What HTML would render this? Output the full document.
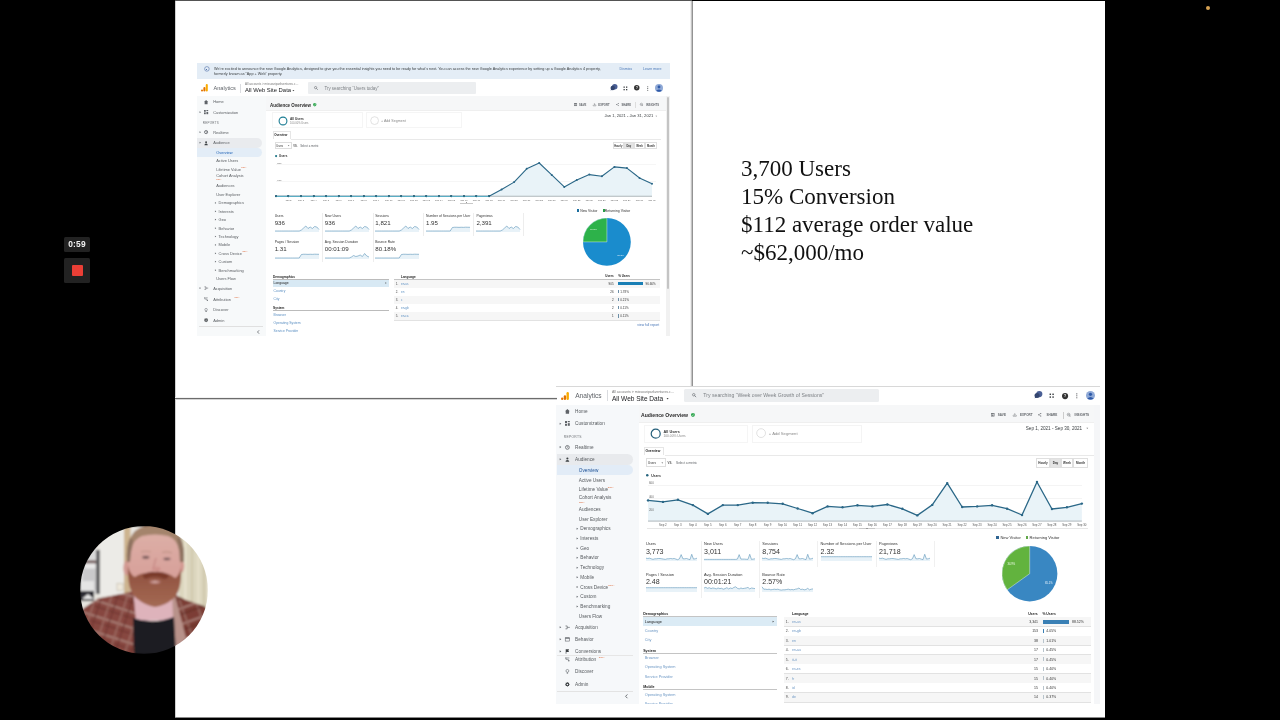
<!DOCTYPE html>
<html><head><meta charset="utf-8"><title>Slide</title>
<style>
html,body{margin:0;padding:0;background:#000;width:1280px;height:720px;overflow:hidden}
*{box-sizing:border-box}
.a{position:absolute}
body{font-family:"Liberation Sans",Arial,sans-serif;color:#222;position:relative}
.t{position:absolute;white-space:nowrap;line-height:1}
.serif{font-family:"Liberation Serif","Times New Roman",serif}
svg{overflow:visible}
</style></head>
<body>
<div class="a" style="left:175.00px;top:0.00px;width:517.00px;height:1.00px;background:#545454;"></div>
<div class="a" style="left:175.00px;top:1.00px;width:930.00px;height:716.00px;background:#fff;"></div>
<div class="a" style="left:175.00px;top:717.00px;width:930.00px;height:1.00px;background:#8a8a8a;"></div>
<div class="a" style="left:175.00px;top:1.00px;width:1.00px;height:716.00px;background:#d0d0d0;"></div>
<div class="a" style="left:0;top:0;width:1280px;height:720px;will-change:transform">
<div class="a" style="left:197.00px;top:62.50px;width:473.00px;height:273.50px;background:#fff;"></div>
<div class="a" style="left:197.00px;top:63.00px;width:472.50px;height:16.40px;background:#e4edf6;"></div>
<svg class="a" style="left:203.60px;top:66.10px" width="5.80" height="5.80"><circle cx="2.90" cy="2.90" r="2.30" fill="none" stroke="#4f6fa8" stroke-width="0.6"/></svg>
<div class="a" style="left:206.20px;top:68.60px;width:0.60px;height:1.80px;background:#4f6fa8;"></div>
<svg class="a" style="left:214px;top:70px;" width="1" height="1"><text x="0.00" y="0.15" font-size="3.77" fill="#3c4043" font-weight="normal" text-anchor="start" style="">We’re excited to announce the new Google Analytics, designed to give you the essential insights you need to be ready for what’s next. You can access the new Google Analytics experience by setting up a Google Analytics 4 property,</text></svg>
<svg class="a" style="left:214px;top:74px;" width="1" height="1"><text x="0.00" y="0.95" font-size="3.77" fill="#3c4043" font-weight="normal" text-anchor="start" style="">formerly known as “App + Web” property.</text></svg>
<svg class="a" style="left:619px;top:70px;" width="1" height="1"><text x="0.50" y="0.29" font-size="3.6" fill="#4a78b8" font-weight="normal" text-anchor="start" style="">Dismiss</text></svg>
<svg class="a" style="left:643px;top:70px;" width="1" height="1"><text x="0.00" y="0.29" font-size="3.6" fill="#4a78b8" font-weight="normal" text-anchor="start" style="">Learn more</text></svg>
<div class="a" style="left:197.00px;top:79.40px;width:472.50px;height:16.60px;background:#fff;"></div>
<div class="a" style="left:197.00px;top:95.60px;width:472.50px;height:0.70px;background:#e3e5e8;"></div>
<svg class="a" style="left:201.30px;top:84.40px;" width="6.80" height="7.50" viewBox="0 0 6.80 7.50"><rect x="4.74" y="0" width="2.06" height="7.50" rx="1.03" fill="#f9ab00"/><rect x="2.37" y="3.00" width="2.06" height="4.50" rx="1.03" fill="#e37400"/><circle cx="1.03" cy="6.47" r="1.03" fill="#e37400"/></svg>
<svg class="a" style="left:213px;top:90px;" width="1" height="1"><text x="0.50" y="0.10" font-size="5.6" fill="#5f6368" font-weight="normal" text-anchor="start" style="">Analytics</text></svg>
<div class="a" style="left:240.40px;top:83.50px;width:0.50px;height:9.50px;background:#dadce0;"></div>
<svg class="a" style="left:245px;top:85px;" width="1" height="1"><text x="0.00" y="0.37" font-size="3.0" fill="#777" font-weight="normal" text-anchor="start" style="">All accounts &gt; missouriparkventures.c…</text></svg>
<svg class="a" style="left:245px;top:92px;" width="1" height="1"><text x="0.00" y="0.31" font-size="5.9" fill="#202124" font-weight="normal" text-anchor="start" style="">All Web Site Data</text></svg>
<svg class="a" style="left:293px;top:90px" width="1" height="1"><polygon transform="translate(0.40,0.60)" points="-0.95,-0.57 0.95,-0.57 0,0.66" fill="#444"/></svg>
<div class="a" style="left:308.00px;top:82.25px;width:167.60px;height:11.50px;background:#eceef0;border-radius:1px"></div>
<svg class="a" style="left:314.30px;top:86.00px;" width="4.00" height="4.00" viewBox="0 0 4.00 4.00"><circle cx="1.6" cy="1.6" r="1.12" fill="none" stroke="#5f6368" stroke-width="0.56"/><path d="M2.4 2.4 L3.8 3.8" stroke="#5f6368" stroke-width="0.64"/></svg>
<svg class="a" style="left:324px;top:89px;" width="1" height="1"><text x="0.40" y="0.59" font-size="4.45" fill="#7d8185" font-weight="normal" text-anchor="start" style="">Try searching “Users today”</text></svg>
<svg class="a" style="left:610.45px;top:84.25px;" width="8.00" height="7.00" viewBox="0 0 8.00 7.00"><circle cx="4.75" cy="2.75" r="2.75" fill="#4a5f95"/><circle cx="2.75" cy="4.00" r="2.25" fill="#33456f"/><path d="M0.50 6.50 L1.50 4.50 L3.00 5.50Z" fill="#33456f"/></svg>
<svg class="a" style="left:622.70px;top:85.50px;" width="5.00" height="5.00" viewBox="0 0 5.00 5.00"><rect x="0.50" y="0.50" width="1.30" height="1.30" fill="#3c4043"/><rect x="0.50" y="3.00" width="1.30" height="1.30" fill="#3c4043"/><rect x="3.00" y="0.50" width="1.30" height="1.30" fill="#3c4043"/><rect x="3.00" y="3.00" width="1.30" height="1.30" fill="#3c4043"/></svg>
<svg class="a" style="left:633.25px;top:84.25px" width="7.50" height="7.50"><circle cx="3.75" cy="3.75" r="2.75" fill="#333" stroke="none" stroke-width="1"/></svg>
<svg class="a" style="left:637px;top:89px;" width="1" height="1"><text x="0.00" y="0.11" font-size="3.1" fill="#fff" font-weight="bold" text-anchor="middle" style="">?</text></svg>
<svg class="a" style="left:646.55px;top:85.50px;" width="1.50" height="5.00" viewBox="0 0 1.50 5.00"><circle cx="0.75" cy="0.75" r="0.50" fill="#3c4043"/><circle cx="0.75" cy="2.50" r="0.50" fill="#3c4043"/><circle cx="0.75" cy="4.25" r="0.50" fill="#3c4043"/></svg>
<svg class="a" style="left:655.00px;top:84.00px;" width="8.00" height="8.00" viewBox="0 0 8.00 8.00"><circle cx="4.0" cy="4.0" r="4.0" fill="#8fa9d6"/><circle cx="4.0" cy="3.0" r="1.44" fill="#2f5aa8"/><path d="M1.2 6.8 Q4.0 4.0 6.8 6.8 Q4.0 8.6 1.2 6.8Z" fill="#2f5aa8"/></svg>
<div class="a" style="left:197.00px;top:96.30px;width:68.50px;height:239.70px;background:#f7f9fa;"></div>
<div class="a" style="left:197.00px;top:138.20px;width:65.00px;height:9.40px;background:#e9ebee;border-radius:0 5px 5px 0"></div>
<div class="a" style="left:197.00px;top:148.00px;width:65.00px;height:9.00px;background:#e3edf7;border-radius:0 5px 5px 0"></div>
<svg class="a" style="left:204.20px;top:99.50px;" width="4.20" height="4.20" viewBox="0 0 4.20 4.20"><path d="M2.1 0 L4.2 1.8900000000000001 L3.57 1.8900000000000001 L3.57 4.2 L0.63 4.2 L0.63 1.8900000000000001 L0 1.8900000000000001Z" fill="#5f6368"/></svg>
<svg class="a" style="left:213px;top:103px;" width="1" height="1"><text x="0.20" y="0.01" font-size="3.95" fill="#5a5e62" font-weight="normal" text-anchor="start" style="">Home</text></svg>
<svg class="a" style="left:204.20px;top:110.10px;" width="4.20" height="4.20" viewBox="0 0 4.20 4.20"><rect x="0" y="0" width="1.764" height="1.764" fill="#5f6368"/><rect x="2.436" y="0" width="1.764" height="1.0584" fill="#5f6368"/><rect x="0" y="2.436" width="1.764" height="1.764" fill="#5f6368"/><rect x="2.436" y="1.9068" width="1.764" height="2.2932" fill="#5f6368"/></svg>
<svg class="a" style="left:200px;top:112px" width="1" height="1"><polygon transform="translate(0.30,0.20)" points="-0.72,-0.90 0.72,0 -0.72,0.90" fill="#5f6368"/></svg>
<svg class="a" style="left:213px;top:113px;" width="1" height="1"><text x="0.20" y="0.61" font-size="3.95" fill="#5a5e62" font-weight="normal" text-anchor="start" style="">Customization</text></svg>
<svg class="a" style="left:202px;top:123px;" width="1" height="1"><text x="0.80" y="0.87" font-size="3.0" fill="#6b6f73" font-weight="normal" text-anchor="start" style="letter-spacing:0.25px">REPORTS</text></svg>
<svg class="a" style="left:204.20px;top:130.10px;" width="4.20" height="4.20" viewBox="0 0 4.20 4.20"><circle cx="2.1" cy="2.1" r="1.6" fill="none" stroke="#5f6368" stroke-width="0.8"/><path d="M2.1 1.05 L2.1 2.1 L2.94 2.604" fill="none" stroke="#5f6368" stroke-width="0.6"/></svg>
<svg class="a" style="left:200px;top:132px" width="1" height="1"><polygon transform="translate(0.30,0.20)" points="-0.72,-0.90 0.72,0 -0.72,0.90" fill="#5f6368"/></svg>
<svg class="a" style="left:213px;top:133px;" width="1" height="1"><text x="0.20" y="0.61" font-size="3.95" fill="#5a5e62" font-weight="normal" text-anchor="start" style="">Realtime</text></svg>
<svg class="a" style="left:204.20px;top:140.60px;" width="4.20" height="4.20" viewBox="0 0 4.20 4.20"><circle cx="2.1" cy="1.26" r="0.924" fill="#3c4043"/><path d="M0.42000000000000004 4.2 Q0.42000000000000004 2.52 2.1 2.52 Q3.7800000000000002 2.52 3.7800000000000002 4.2Z" fill="#3c4043"/></svg>
<svg class="a" style="left:200px;top:142px" width="1" height="1"><polygon transform="translate(0.30,0.70)" points="-0.72,-0.90 0.72,0 -0.72,0.90" fill="#5f6368"/></svg>
<svg class="a" style="left:213px;top:144px;" width="1" height="1"><text x="0.20" y="0.11" font-size="3.95" fill="#5a5e62" font-weight="normal" text-anchor="start" style="">Audience</text></svg>
<svg class="a" style="left:216px;top:153px;" width="1" height="1"><text x="0.20" y="0.71" font-size="3.95" fill="#1a5fb4" font-weight="normal" text-anchor="start" style="">Overview</text></svg>
<svg class="a" style="left:216px;top:162px;" width="1" height="1"><text x="0.20" y="0.21" font-size="3.95" fill="#5a5e62" font-weight="normal" text-anchor="start" style="">Active Users</text></svg>
<svg class="a" style="left:216px;top:170px;" width="1" height="1"><text x="0.20" y="0.71" font-size="3.95" fill="#5a5e62" font-weight="normal" text-anchor="start" style="">Lifetime Value</text></svg>
<svg class="a" style="left:216px;top:177px;" width="1" height="1"><text x="0.20" y="0.41" font-size="3.95" fill="#5a5e62" font-weight="normal" text-anchor="start" style="">Cohort Analysis</text></svg>
<svg class="a" style="left:216px;top:187px;" width="1" height="1"><text x="0.20" y="0.41" font-size="3.95" fill="#5a5e62" font-weight="normal" text-anchor="start" style="">Audiences</text></svg>
<svg class="a" style="left:216px;top:195px;" width="1" height="1"><text x="0.20" y="0.91" font-size="3.95" fill="#5a5e62" font-weight="normal" text-anchor="start" style="">User Explorer</text></svg>
<svg class="a" style="left:215px;top:202px" width="1" height="1"><polygon transform="translate(0.60,0.90)" points="-0.68,-0.85 0.68,0 -0.68,0.85" fill="#5f6368"/></svg>
<svg class="a" style="left:218px;top:204px;" width="1" height="1"><text x="0.60" y="0.31" font-size="3.95" fill="#5a5e62" font-weight="normal" text-anchor="start" style="">Demographics</text></svg>
<svg class="a" style="left:215px;top:211px" width="1" height="1"><polygon transform="translate(0.60,0.30)" points="-0.68,-0.85 0.68,0 -0.68,0.85" fill="#5f6368"/></svg>
<svg class="a" style="left:218px;top:212px;" width="1" height="1"><text x="0.60" y="0.71" font-size="3.95" fill="#5a5e62" font-weight="normal" text-anchor="start" style="">Interests</text></svg>
<svg class="a" style="left:215px;top:219px" width="1" height="1"><polygon transform="translate(0.60,0.60)" points="-0.68,-0.85 0.68,0 -0.68,0.85" fill="#5f6368"/></svg>
<svg class="a" style="left:218px;top:221px;" width="1" height="1"><text x="0.60" y="0.01" font-size="3.95" fill="#5a5e62" font-weight="normal" text-anchor="start" style="">Geo</text></svg>
<svg class="a" style="left:215px;top:228px" width="1" height="1"><polygon transform="translate(0.60,0.20)" points="-0.68,-0.85 0.68,0 -0.68,0.85" fill="#5f6368"/></svg>
<svg class="a" style="left:218px;top:229px;" width="1" height="1"><text x="0.60" y="0.61" font-size="3.95" fill="#5a5e62" font-weight="normal" text-anchor="start" style="">Behavior</text></svg>
<svg class="a" style="left:215px;top:236px" width="1" height="1"><polygon transform="translate(0.60,0.50)" points="-0.68,-0.85 0.68,0 -0.68,0.85" fill="#5f6368"/></svg>
<svg class="a" style="left:218px;top:237px;" width="1" height="1"><text x="0.60" y="0.91" font-size="3.95" fill="#5a5e62" font-weight="normal" text-anchor="start" style="">Technology</text></svg>
<svg class="a" style="left:215px;top:244px" width="1" height="1"><polygon transform="translate(0.60,0.90)" points="-0.68,-0.85 0.68,0 -0.68,0.85" fill="#5f6368"/></svg>
<svg class="a" style="left:218px;top:246px;" width="1" height="1"><text x="0.60" y="0.31" font-size="3.95" fill="#5a5e62" font-weight="normal" text-anchor="start" style="">Mobile</text></svg>
<svg class="a" style="left:215px;top:253px" width="1" height="1"><polygon transform="translate(0.60,0.30)" points="-0.68,-0.85 0.68,0 -0.68,0.85" fill="#5f6368"/></svg>
<svg class="a" style="left:218px;top:254px;" width="1" height="1"><text x="0.60" y="0.71" font-size="3.95" fill="#5a5e62" font-weight="normal" text-anchor="start" style="">Cross Device</text></svg>
<svg class="a" style="left:215px;top:261px" width="1" height="1"><polygon transform="translate(0.60,0.70)" points="-0.68,-0.85 0.68,0 -0.68,0.85" fill="#5f6368"/></svg>
<svg class="a" style="left:218px;top:263px;" width="1" height="1"><text x="0.60" y="0.11" font-size="3.95" fill="#5a5e62" font-weight="normal" text-anchor="start" style="">Custom</text></svg>
<svg class="a" style="left:215px;top:270px" width="1" height="1"><polygon transform="translate(0.60,0.20)" points="-0.68,-0.85 0.68,0 -0.68,0.85" fill="#5f6368"/></svg>
<svg class="a" style="left:218px;top:271px;" width="1" height="1"><text x="0.60" y="0.61" font-size="3.95" fill="#5a5e62" font-weight="normal" text-anchor="start" style="">Benchmarking</text></svg>
<svg class="a" style="left:216px;top:280px;" width="1" height="1"><text x="0.20" y="0.01" font-size="3.95" fill="#5a5e62" font-weight="normal" text-anchor="start" style="">Users Flow</text></svg>
<svg class="a" style="left:241px;top:168px;" width="1" height="1"><text x="0.30" y="0.32" font-size="2.0" fill="#e0764a" font-weight="normal" text-anchor="start" style="">BETA</text></svg>
<svg class="a" style="left:216px;top:180px;" width="1" height="1"><text x="0.30" y="0.12" font-size="2.0" fill="#e0764a" font-weight="normal" text-anchor="start" style="">BETA</text></svg>
<svg class="a" style="left:242px;top:252px;" width="1" height="1"><text x="0.50" y="0.32" font-size="2.0" fill="#e0764a" font-weight="normal" text-anchor="start" style="">BETA</text></svg>
<svg class="a" style="left:204.20px;top:286.00px;" width="4.20" height="4.20" viewBox="0 0 4.20 4.20"><path d="M0.42000000000000004 0.8400000000000001 L1.8900000000000001 0.8400000000000001 L1.8900000000000001 3.3600000000000003 L0.42000000000000004 3.3600000000000003 M1.8900000000000001 2.1 L4.2 2.1" fill="none" stroke="#5f6368" stroke-width="0.5880000000000001"/></svg>
<svg class="a" style="left:200px;top:288px" width="1" height="1"><polygon transform="translate(0.30,0.10)" points="-0.72,-0.90 0.72,0 -0.72,0.90" fill="#5f6368"/></svg>
<svg class="a" style="left:213px;top:289px;" width="1" height="1"><text x="0.20" y="0.51" font-size="3.95" fill="#5a5e62" font-weight="normal" text-anchor="start" style="">Acquisition</text></svg>
<svg class="a" style="left:204.20px;top:297.30px;" width="4.20" height="4.20" viewBox="0 0 4.20 4.20"><circle cx="0.8400000000000001" cy="0.8400000000000001" r="0.63" fill="#5f6368"/><circle cx="3.3600000000000003" cy="3.3600000000000003" r="0.63" fill="#5f6368"/><path d="M0.8400000000000001 1.26 L0.8400000000000001 2.1 L2.94 2.1 L2.94 3.1500000000000004 M1.6800000000000002 0.8400000000000001 L3.7800000000000002 0.8400000000000001" fill="none" stroke="#5f6368" stroke-width="0.504"/></svg>
<svg class="a" style="left:213px;top:300px;" width="1" height="1"><text x="0.20" y="0.81" font-size="3.95" fill="#5a5e62" font-weight="normal" text-anchor="start" style="">Attribution</text></svg>
<svg class="a" style="left:234px;top:298px;" width="1" height="1"><text x="0.60" y="0.12" font-size="2.0" fill="#e0764a" font-weight="normal" text-anchor="start" style="">BETA</text></svg>
<svg class="a" style="left:204.20px;top:307.80px;" width="4.20" height="4.20" viewBox="0 0 4.20 4.20"><circle cx="2.1" cy="1.6800000000000002" r="1.26" fill="none" stroke="#5f6368" stroke-width="0.504"/><rect x="1.512" y="3.1500000000000004" width="1.1760000000000002" height="0.8400000000000001" fill="#5f6368"/></svg>
<svg class="a" style="left:213px;top:311px;" width="1" height="1"><text x="0.20" y="0.31" font-size="3.95" fill="#5a5e62" font-weight="normal" text-anchor="start" style="">Discover</text></svg>
<svg class="a" style="left:204.20px;top:318.30px;" width="4.20" height="4.20" viewBox="0 0 4.20 4.20"><polygon points="4.20,2.10 3.50,2.68 3.58,3.58 2.68,3.50 2.10,4.20 1.52,3.50 0.62,3.58 0.70,2.68 0.00,2.10 0.70,1.52 0.62,0.62 1.52,0.70 2.10,0.00 2.68,0.70 3.58,0.62 3.50,1.52" fill="#3c4043"/><circle cx="2.1" cy="2.1" r="0.672" fill="#f6f8fa"/></svg>
<svg class="a" style="left:213px;top:321px;" width="1" height="1"><text x="0.20" y="0.81" font-size="3.95" fill="#5a5e62" font-weight="normal" text-anchor="start" style="">Admin</text></svg>
<div class="a" style="left:199.00px;top:326.00px;width:64.00px;height:0.50px;background:#e0e0e0;"></div>
<svg class="a" style="left:256.60px;top:329.50px;" width="2.60" height="4.00" viewBox="0 0 2.60 4.00"><path d="M2.1 0.3 L0.5 2 L2.1 3.7" fill="none" stroke="#5f6368" stroke-width="0.8"/></svg>
<div class="a" style="left:265.50px;top:96.30px;width:400.50px;height:13.90px;background:#f6f7f8;"></div>
<div class="a" style="left:265.50px;top:110.10px;width:400.50px;height:0.50px;background:#efefef;"></div>
<svg class="a" style="left:270px;top:106px;" width="1" height="1"><text x="0.10" y="0.59" font-size="4.45" fill="#2a2a2a" font-weight="bold" text-anchor="start" style="">Audience Overview</text></svg>
<svg class="a" style="left:312.90px;top:102.90px;" width="3.40" height="3.40" viewBox="0 0 3.40 3.40"><path d="M1.7 0 L3.4 0.68 L3.4 1.7 Q3.4 2.8899999999999997 1.7 3.4 Q0 2.8899999999999997 0 1.7 L0 0.68Z" fill="#34a853"/><path d="M0.9520000000000001 1.7 L1.53 2.3120000000000003 L2.55 1.19" fill="none" stroke="#fff" stroke-width="0.408"/></svg>
<svg class="a" style="left:573.65px;top:103.35px;" width="3.10" height="3.10" viewBox="0 0 3.10 3.10"><rect x="0.31" y="0.31" width="2.48" height="2.48" fill="none" stroke="#5f6368" stroke-width="0.50"/><rect x="0.93" y="0.31" width="1.24" height="0.93" fill="#5f6368"/><rect x="0.93" y="1.71" width="1.24" height="0.78" fill="#5f6368"/></svg>
<svg class="a" style="left:579px;top:105px;" width="1" height="1"><text x="0.00" y="0.87" font-size="2.7" fill="#5f6368" font-weight="bold" text-anchor="start" style="letter-spacing:0.05px">SAVE</text></svg>
<svg class="a" style="left:592.85px;top:103.35px;" width="3.10" height="3.10" viewBox="0 0 3.10 3.10"><path d="M1.55 0.16 L1.55 2.02 M0.78 1.30 L1.55 2.08 L2.33 1.30 M0.16 1.86 L0.16 2.85 L2.94 2.85 L2.94 1.86" fill="none" stroke="#5f6368" stroke-width="0.40"/></svg>
<svg class="a" style="left:598px;top:105px;" width="1" height="1"><text x="0.30" y="0.87" font-size="2.7" fill="#5f6368" font-weight="bold" text-anchor="start" style="letter-spacing:0.05px">EXPORT</text></svg>
<svg class="a" style="left:616.05px;top:103.35px;" width="3.10" height="3.10" viewBox="0 0 3.10 3.10"><path d="M2.48 0.46 L0.62 1.55 L2.48 2.63" fill="none" stroke="#5f6368" stroke-width="0.37"/><circle cx="2.48" cy="0.46" r="0.46" fill="#5f6368"/><circle cx="0.62" cy="1.55" r="0.46" fill="#5f6368"/><circle cx="2.48" cy="2.63" r="0.46" fill="#5f6368"/></svg>
<svg class="a" style="left:621px;top:105px;" width="1" height="1"><text x="0.50" y="0.87" font-size="2.7" fill="#5f6368" font-weight="bold" text-anchor="start" style="letter-spacing:0.05px">SHARE</text></svg>
<svg class="a" style="left:640.35px;top:103.35px;" width="3.10" height="3.10" viewBox="0 0 3.10 3.10"><circle cx="1.40" cy="1.40" r="1.18" fill="none" stroke="#5f6368" stroke-width="0.40"/><path d="M0.78 1.71 L1.30 1.08 L1.71 1.55 L2.17 0.93" fill="none" stroke="#5f6368" stroke-width="0.37"/><circle cx="2.63" cy="2.63" r="0.46" fill="#5f6368"/></svg>
<svg class="a" style="left:646px;top:105px;" width="1" height="1"><text x="0.00" y="0.87" font-size="2.7" fill="#5f6368" font-weight="bold" text-anchor="start" style="letter-spacing:0.05px">INSIGHTS</text></svg>
<div class="a" style="left:634.60px;top:102.00px;width:0.40px;height:5.50px;background:#ddd;"></div>
<svg class="a" style="left:604px;top:117px;" width="1" height="1"><text x="0.50" y="0.37" font-size="4.1" fill="#3c4043" font-weight="normal" text-anchor="start" style="">Jan 1, 2021 - Jan 31, 2021</text></svg>
<svg class="a" style="left:656px;top:116px" width="1" height="1"><polygon transform="translate(0.30,0.20)" points="-0.80,-0.48 0.80,-0.48 0,0.56" fill="#777"/></svg>
<div class="a" style="left:272.30px;top:111.90px;width:90.30px;height:16.20px;background:#fff;border:0.5px solid #f5f5f5;"></div>
<svg class="a" style="left:277.90px;top:115.60px" width="10.00" height="10.00"><circle cx="5.00" cy="5.00" r="3.90" fill="none" stroke="#1d7d94" stroke-width="1.1"/></svg>
<svg class="a" style="left:290px;top:119px;" width="1" height="1"><text x="0.00" y="0.85" font-size="3.2" fill="#333" font-weight="bold" text-anchor="start" style="">All Users</text></svg>
<svg class="a" style="left:290px;top:123px;" width="1" height="1"><text x="0.00" y="0.67" font-size="2.7" fill="#888" font-weight="normal" text-anchor="start" style="">100.00% Users</text></svg>
<div class="a" style="left:365.50px;top:111.90px;width:96.00px;height:16.20px;background:#fff;border:0.5px solid #f5f5f5;"></div>
<svg class="a" style="left:369.50px;top:115.60px" width="9.20" height="9.20"><circle cx="4.60" cy="4.60" r="3.90" fill="none" stroke="#d5d5d5" stroke-width="0.7"/></svg>
<svg class="a" style="left:381px;top:121px;" width="1" height="1"><text x="0.00" y="0.49" font-size="3.6" fill="#8a8a8a" font-weight="normal" text-anchor="start" style="">+ Add Segment</text></svg>
<div class="a" style="left:272.60px;top:131.30px;width:18.00px;height:7.60px;background:#fff;border:0.5px solid #e6e6e6;border-bottom:none"></div>
<svg class="a" style="left:274px;top:136px;" width="1" height="1"><text x="0.20" y="0.36" font-size="2.95" fill="#222" font-weight="bold" text-anchor="start" style="">Overview</text></svg>
<div class="a" style="left:290.50px;top:138.50px;width:370.00px;height:0.50px;background:#e9e9e9;"></div>
<div class="a" style="left:274.50px;top:141.90px;width:17.30px;height:7.50px;background:#fff;border:0.5px solid #dedede;"></div>
<svg class="a" style="left:276px;top:146px;" width="1" height="1"><text x="0.20" y="0.77" font-size="2.7" fill="#333" font-weight="normal" text-anchor="start" style="">Users</text></svg>
<svg class="a" style="left:288px;top:145px" width="1" height="1"><polygon transform="translate(0.60,0.80)" points="-0.75,-0.45 0.75,-0.45 0,0.52" fill="#555"/></svg>
<svg class="a" style="left:293px;top:146px;" width="1" height="1"><text x="0.30" y="0.63" font-size="2.6" fill="#555" font-weight="bold" text-anchor="start" style="">VS.</text></svg>
<svg class="a" style="left:300px;top:146px;" width="1" height="1"><text x="0.20" y="0.80" font-size="2.8" fill="#5a5e62" font-weight="normal" text-anchor="start" style="">Select a metric</text></svg>
<div class="a" style="left:612.80px;top:141.90px;width:10.90px;height:7.60px;background:#fff;border:0.5px solid #dfdfdf;"></div>
<svg class="a" style="left:618px;top:146px;" width="1" height="1"><text x="0.25" y="0.63" font-size="2.6" fill="#333" font-weight="bold" text-anchor="middle" style="">Hourly</text></svg>
<div class="a" style="left:623.70px;top:141.90px;width:10.30px;height:7.60px;background:#e4e4e4;border:0.5px solid #dfdfdf;"></div>
<svg class="a" style="left:628px;top:146px;" width="1" height="1"><text x="0.85" y="0.63" font-size="2.6" fill="#333" font-weight="bold" text-anchor="middle" style="">Day</text></svg>
<div class="a" style="left:634.00px;top:141.90px;width:11.00px;height:7.60px;background:#fff;border:0.5px solid #dfdfdf;"></div>
<svg class="a" style="left:639px;top:146px;" width="1" height="1"><text x="0.50" y="0.63" font-size="2.6" fill="#333" font-weight="bold" text-anchor="middle" style="">Week</text></svg>
<div class="a" style="left:645.00px;top:141.90px;width:11.70px;height:7.60px;background:#fff;border:0.5px solid #dfdfdf;"></div>
<svg class="a" style="left:650px;top:146px;" width="1" height="1"><text x="0.85" y="0.63" font-size="2.6" fill="#333" font-weight="bold" text-anchor="middle" style="">Month</text></svg>
<svg class="a" style="left:274.30px;top:154.00px" width="4.20" height="4.20"><circle cx="2.10" cy="2.10" r="1.10" fill="#22788a" stroke="none" stroke-width="1"/></svg>
<svg class="a" style="left:279px;top:157px;" width="1" height="1"><text x="0.00" y="0.27" font-size="3.0" fill="#333" font-weight="bold" text-anchor="start" style="">Users</text></svg>
<div class="a" style="left:276.00px;top:164.40px;width:380.00px;height:0.40px;background:#f6f6f6;"></div>
<div class="a" style="left:276.00px;top:181.00px;width:380.00px;height:0.40px;background:#f6f6f6;"></div>
<svg class="a" style="left:272.90px;top:160.00px;" width="382.00" height="39.25" viewBox="0 0 382.00 39.25"><polygon points="3.00,36.25 3.00,36.25 15.53,36.25 28.07,36.25 40.60,36.25 53.13,36.25 65.67,36.25 78.20,36.25 90.73,36.25 103.27,36.25 115.80,36.25 128.33,36.25 140.87,36.25 153.40,36.25 165.93,36.25 178.47,36.25 191.00,36.25 203.53,36.25 216.07,36.25 228.60,29.50 241.13,22.10 253.67,8.80 266.20,3.00 278.73,14.90 291.27,26.90 303.80,19.90 316.33,14.60 328.87,16.20 341.40,6.90 353.93,8.10 366.47,17.90 379.00,23.70 379.00,36.25" fill="#e9f3f8"/><line x1="3.00" y1="36.25" x2="379.00" y2="36.25" stroke="#aeb6bb" stroke-width="1"/><polyline points="3.00,36.25 15.53,36.25 28.07,36.25 40.60,36.25 53.13,36.25 65.67,36.25 78.20,36.25 90.73,36.25 103.27,36.25 115.80,36.25 128.33,36.25 140.87,36.25 153.40,36.25 165.93,36.25 178.47,36.25 191.00,36.25 203.53,36.25 216.07,36.25 228.60,29.50 241.13,22.10 253.67,8.80 266.20,3.00 278.73,14.90 291.27,26.90 303.80,19.90 316.33,14.60 328.87,16.20 341.40,6.90 353.93,8.10 366.47,17.90 379.00,23.70" fill="none" stroke="#2a6787" stroke-width="1.1" stroke-linejoin="round"/><circle cx="3.00" cy="36.25" r="1.0" fill="#2a6787"/><circle cx="15.53" cy="36.25" r="1.0" fill="#2a6787"/><circle cx="28.07" cy="36.25" r="1.0" fill="#2a6787"/><circle cx="40.60" cy="36.25" r="1.0" fill="#2a6787"/><circle cx="53.13" cy="36.25" r="1.0" fill="#2a6787"/><circle cx="65.67" cy="36.25" r="1.0" fill="#2a6787"/><circle cx="78.20" cy="36.25" r="1.0" fill="#2a6787"/><circle cx="90.73" cy="36.25" r="1.0" fill="#2a6787"/><circle cx="103.27" cy="36.25" r="1.0" fill="#2a6787"/><circle cx="115.80" cy="36.25" r="1.0" fill="#2a6787"/><circle cx="128.33" cy="36.25" r="1.0" fill="#2a6787"/><circle cx="140.87" cy="36.25" r="1.0" fill="#2a6787"/><circle cx="153.40" cy="36.25" r="1.0" fill="#2a6787"/><circle cx="165.93" cy="36.25" r="1.0" fill="#2a6787"/><circle cx="178.47" cy="36.25" r="1.0" fill="#2a6787"/><circle cx="191.00" cy="36.25" r="1.0" fill="#2a6787"/><circle cx="203.53" cy="36.25" r="1.0" fill="#2a6787"/><circle cx="216.07" cy="36.25" r="1.0" fill="#2a6787"/><circle cx="228.60" cy="29.50" r="1.0" fill="#2a6787"/><circle cx="241.13" cy="22.10" r="1.0" fill="#2a6787"/><circle cx="253.67" cy="8.80" r="1.0" fill="#2a6787"/><circle cx="266.20" cy="3.00" r="1.0" fill="#2a6787"/><circle cx="278.73" cy="14.90" r="1.0" fill="#2a6787"/><circle cx="291.27" cy="26.90" r="1.0" fill="#2a6787"/><circle cx="303.80" cy="19.90" r="1.0" fill="#2a6787"/><circle cx="316.33" cy="14.60" r="1.0" fill="#2a6787"/><circle cx="328.87" cy="16.20" r="1.0" fill="#2a6787"/><circle cx="341.40" cy="6.90" r="1.0" fill="#2a6787"/><circle cx="353.93" cy="8.10" r="1.0" fill="#2a6787"/><circle cx="366.47" cy="17.90" r="1.0" fill="#2a6787"/><circle cx="379.00" cy="23.70" r="1.0" fill="#2a6787"/></svg>
<svg class="a" style="left:277px;top:163px;" width="1" height="1"><text x="0.30" y="0.80" font-size="2.5" fill="#666" font-weight="normal" text-anchor="start" style="">200</text></svg>
<svg class="a" style="left:277px;top:180px;" width="1" height="1"><text x="0.30" y="0.80" font-size="2.5" fill="#666" font-weight="normal" text-anchor="start" style="">100</text></svg>
<svg class="a" style="left:288px;top:200px;" width="1" height="1"><text x="0.43" y="0.59" font-size="2.5" fill="#666" font-weight="normal" text-anchor="middle" style="">Jan 2</text></svg>
<svg class="a" style="left:300px;top:200px;" width="1" height="1"><text x="0.97" y="0.59" font-size="2.5" fill="#666" font-weight="normal" text-anchor="middle" style="">Jan 3</text></svg>
<svg class="a" style="left:313px;top:200px;" width="1" height="1"><text x="0.50" y="0.59" font-size="2.5" fill="#666" font-weight="normal" text-anchor="middle" style="">Jan 4</text></svg>
<svg class="a" style="left:326px;top:200px;" width="1" height="1"><text x="0.03" y="0.59" font-size="2.5" fill="#666" font-weight="normal" text-anchor="middle" style="">Jan 5</text></svg>
<svg class="a" style="left:338px;top:200px;" width="1" height="1"><text x="0.57" y="0.59" font-size="2.5" fill="#666" font-weight="normal" text-anchor="middle" style="">Jan 6</text></svg>
<svg class="a" style="left:351px;top:200px;" width="1" height="1"><text x="0.10" y="0.59" font-size="2.5" fill="#666" font-weight="normal" text-anchor="middle" style="">Jan 7</text></svg>
<svg class="a" style="left:363px;top:200px;" width="1" height="1"><text x="0.63" y="0.59" font-size="2.5" fill="#666" font-weight="normal" text-anchor="middle" style="">Jan 8</text></svg>
<svg class="a" style="left:376px;top:200px;" width="1" height="1"><text x="0.17" y="0.59" font-size="2.5" fill="#666" font-weight="normal" text-anchor="middle" style="">Jan 9</text></svg>
<svg class="a" style="left:388px;top:200px;" width="1" height="1"><text x="0.70" y="0.59" font-size="2.5" fill="#666" font-weight="normal" text-anchor="middle" style="">Jan 10</text></svg>
<svg class="a" style="left:401px;top:200px;" width="1" height="1"><text x="0.23" y="0.59" font-size="2.5" fill="#666" font-weight="normal" text-anchor="middle" style="">Jan 11</text></svg>
<svg class="a" style="left:413px;top:200px;" width="1" height="1"><text x="0.77" y="0.59" font-size="2.5" fill="#666" font-weight="normal" text-anchor="middle" style="">Jan 12</text></svg>
<svg class="a" style="left:426px;top:200px;" width="1" height="1"><text x="0.30" y="0.59" font-size="2.5" fill="#666" font-weight="normal" text-anchor="middle" style="">Jan 13</text></svg>
<svg class="a" style="left:438px;top:200px;" width="1" height="1"><text x="0.83" y="0.59" font-size="2.5" fill="#666" font-weight="normal" text-anchor="middle" style="">Jan 14</text></svg>
<svg class="a" style="left:451px;top:200px;" width="1" height="1"><text x="0.37" y="0.59" font-size="2.5" fill="#666" font-weight="normal" text-anchor="middle" style="">Jan 15</text></svg>
<svg class="a" style="left:463px;top:200px;" width="1" height="1"><text x="0.90" y="0.59" font-size="2.5" fill="#666" font-weight="normal" text-anchor="middle" style="">Jan 16</text></svg>
<svg class="a" style="left:476px;top:200px;" width="1" height="1"><text x="0.43" y="0.59" font-size="2.5" fill="#666" font-weight="normal" text-anchor="middle" style="">Jan 17</text></svg>
<svg class="a" style="left:488px;top:200px;" width="1" height="1"><text x="0.97" y="0.59" font-size="2.5" fill="#666" font-weight="normal" text-anchor="middle" style="">Jan 18</text></svg>
<svg class="a" style="left:501px;top:200px;" width="1" height="1"><text x="0.50" y="0.59" font-size="2.5" fill="#666" font-weight="normal" text-anchor="middle" style="">Jan 19</text></svg>
<svg class="a" style="left:514px;top:200px;" width="1" height="1"><text x="0.03" y="0.59" font-size="2.5" fill="#666" font-weight="normal" text-anchor="middle" style="">Jan 20</text></svg>
<svg class="a" style="left:526px;top:200px;" width="1" height="1"><text x="0.57" y="0.59" font-size="2.5" fill="#666" font-weight="normal" text-anchor="middle" style="">Jan 21</text></svg>
<svg class="a" style="left:539px;top:200px;" width="1" height="1"><text x="0.10" y="0.59" font-size="2.5" fill="#666" font-weight="normal" text-anchor="middle" style="">Jan 22</text></svg>
<svg class="a" style="left:551px;top:200px;" width="1" height="1"><text x="0.63" y="0.59" font-size="2.5" fill="#666" font-weight="normal" text-anchor="middle" style="">Jan 23</text></svg>
<svg class="a" style="left:564px;top:200px;" width="1" height="1"><text x="0.17" y="0.59" font-size="2.5" fill="#666" font-weight="normal" text-anchor="middle" style="">Jan 24</text></svg>
<svg class="a" style="left:576px;top:200px;" width="1" height="1"><text x="0.70" y="0.59" font-size="2.5" fill="#666" font-weight="normal" text-anchor="middle" style="">Jan 25</text></svg>
<svg class="a" style="left:589px;top:200px;" width="1" height="1"><text x="0.23" y="0.59" font-size="2.5" fill="#666" font-weight="normal" text-anchor="middle" style="">Jan 26</text></svg>
<svg class="a" style="left:601px;top:200px;" width="1" height="1"><text x="0.77" y="0.59" font-size="2.5" fill="#666" font-weight="normal" text-anchor="middle" style="">Jan 27</text></svg>
<svg class="a" style="left:614px;top:200px;" width="1" height="1"><text x="0.30" y="0.59" font-size="2.5" fill="#666" font-weight="normal" text-anchor="middle" style="">Jan 28</text></svg>
<svg class="a" style="left:626px;top:200px;" width="1" height="1"><text x="0.83" y="0.59" font-size="2.5" fill="#666" font-weight="normal" text-anchor="middle" style="">Jan 29</text></svg>
<svg class="a" style="left:639px;top:200px;" width="1" height="1"><text x="0.37" y="0.59" font-size="2.5" fill="#666" font-weight="normal" text-anchor="middle" style="">Jan 30</text></svg>
<svg class="a" style="left:651px;top:200px;" width="1" height="1"><text x="0.90" y="0.59" font-size="2.5" fill="#666" font-weight="normal" text-anchor="middle" style="">Jan 31</text></svg>
<div class="a" style="left:459.70px;top:202.50px;width:13.00px;height:0.50px;background:#c8c8c8;"></div>
<div class="a" style="left:465.50px;top:202.00px;width:1.20px;height:1.00px;background:#999;"></div>
<div class="a" style="left:276.00px;top:195.80px;width:213.00px;height:0.90px;background:#5aaec4;"></div>
<svg class="a" style="left:273.90px;top:194.25px" width="4.00" height="4.00"><circle cx="2.00" cy="2.00" r="1.00" fill="#245f75" stroke="none" stroke-width="1"/></svg>
<svg class="a" style="left:286.43px;top:194.25px" width="4.00" height="4.00"><circle cx="2.00" cy="2.00" r="1.00" fill="#245f75" stroke="none" stroke-width="1"/></svg>
<svg class="a" style="left:298.97px;top:194.25px" width="4.00" height="4.00"><circle cx="2.00" cy="2.00" r="1.00" fill="#245f75" stroke="none" stroke-width="1"/></svg>
<svg class="a" style="left:311.50px;top:194.25px" width="4.00" height="4.00"><circle cx="2.00" cy="2.00" r="1.00" fill="#245f75" stroke="none" stroke-width="1"/></svg>
<svg class="a" style="left:324.03px;top:194.25px" width="4.00" height="4.00"><circle cx="2.00" cy="2.00" r="1.00" fill="#245f75" stroke="none" stroke-width="1"/></svg>
<svg class="a" style="left:336.57px;top:194.25px" width="4.00" height="4.00"><circle cx="2.00" cy="2.00" r="1.00" fill="#245f75" stroke="none" stroke-width="1"/></svg>
<svg class="a" style="left:349.10px;top:194.25px" width="4.00" height="4.00"><circle cx="2.00" cy="2.00" r="1.00" fill="#245f75" stroke="none" stroke-width="1"/></svg>
<svg class="a" style="left:361.63px;top:194.25px" width="4.00" height="4.00"><circle cx="2.00" cy="2.00" r="1.00" fill="#245f75" stroke="none" stroke-width="1"/></svg>
<svg class="a" style="left:374.17px;top:194.25px" width="4.00" height="4.00"><circle cx="2.00" cy="2.00" r="1.00" fill="#245f75" stroke="none" stroke-width="1"/></svg>
<svg class="a" style="left:386.70px;top:194.25px" width="4.00" height="4.00"><circle cx="2.00" cy="2.00" r="1.00" fill="#245f75" stroke="none" stroke-width="1"/></svg>
<svg class="a" style="left:399.23px;top:194.25px" width="4.00" height="4.00"><circle cx="2.00" cy="2.00" r="1.00" fill="#245f75" stroke="none" stroke-width="1"/></svg>
<svg class="a" style="left:411.77px;top:194.25px" width="4.00" height="4.00"><circle cx="2.00" cy="2.00" r="1.00" fill="#245f75" stroke="none" stroke-width="1"/></svg>
<svg class="a" style="left:424.30px;top:194.25px" width="4.00" height="4.00"><circle cx="2.00" cy="2.00" r="1.00" fill="#245f75" stroke="none" stroke-width="1"/></svg>
<svg class="a" style="left:436.83px;top:194.25px" width="4.00" height="4.00"><circle cx="2.00" cy="2.00" r="1.00" fill="#245f75" stroke="none" stroke-width="1"/></svg>
<svg class="a" style="left:449.37px;top:194.25px" width="4.00" height="4.00"><circle cx="2.00" cy="2.00" r="1.00" fill="#245f75" stroke="none" stroke-width="1"/></svg>
<svg class="a" style="left:461.90px;top:194.25px" width="4.00" height="4.00"><circle cx="2.00" cy="2.00" r="1.00" fill="#245f75" stroke="none" stroke-width="1"/></svg>
<svg class="a" style="left:474.43px;top:194.25px" width="4.00" height="4.00"><circle cx="2.00" cy="2.00" r="1.00" fill="#245f75" stroke="none" stroke-width="1"/></svg>
<svg class="a" style="left:486.97px;top:194.25px" width="4.00" height="4.00"><circle cx="2.00" cy="2.00" r="1.00" fill="#245f75" stroke="none" stroke-width="1"/></svg>
<svg class="a" style="left:274px;top:216px;" width="1" height="1"><text x="0.70" y="0.91" font-size="3.38" fill="#333" font-weight="normal" text-anchor="start" style="">Users</text></svg>
<svg class="a" style="left:274px;top:224px;" width="1" height="1"><text x="0.70" y="0.90" font-size="6.15" fill="#333" font-weight="normal" text-anchor="start" style="">936</text></svg>
<svg class="a" style="left:274.70px;top:225.20px;" width="44.00" height="8.00" viewBox="0 0 44.00 8.00"><polygon points="0,7.00 0.00,6.00 2.20,6.00 4.40,6.00 6.60,6.00 8.80,6.00 11.00,6.00 13.20,6.00 15.40,6.00 17.60,6.00 19.80,6.00 22.00,6.00 24.20,6.00 26.40,5.00 28.60,3.00 30.80,1.00 33.00,3.50 35.20,2.00 37.40,3.50 39.60,1.50 41.80,2.00 44.00,4.50 44.00,7.00" fill="#e8f2f8"/><polyline points="0.00,6.00 2.20,6.00 4.40,6.00 6.60,6.00 8.80,6.00 11.00,6.00 13.20,6.00 15.40,6.00 17.60,6.00 19.80,6.00 22.00,6.00 24.20,6.00 26.40,5.00 28.60,3.00 30.80,1.00 33.00,3.50 35.20,2.00 37.40,3.50 39.60,1.50 41.80,2.00 44.00,4.50" fill="none" stroke="#5a93b8" stroke-width="0.6"/></svg>
<svg class="a" style="left:324px;top:216px;" width="1" height="1"><text x="0.80" y="0.91" font-size="3.38" fill="#333" font-weight="normal" text-anchor="start" style="">New Users</text></svg>
<svg class="a" style="left:324px;top:224px;" width="1" height="1"><text x="0.80" y="0.90" font-size="6.15" fill="#333" font-weight="normal" text-anchor="start" style="">936</text></svg>
<svg class="a" style="left:324.80px;top:225.20px;" width="44.00" height="8.00" viewBox="0 0 44.00 8.00"><polygon points="0,7.00 0.00,6.00 2.20,6.00 4.40,6.00 6.60,6.00 8.80,6.00 11.00,6.00 13.20,6.00 15.40,6.00 17.60,6.00 19.80,6.00 22.00,6.00 24.20,6.00 26.40,5.00 28.60,3.00 30.80,1.00 33.00,3.50 35.20,2.00 37.40,3.50 39.60,1.50 41.80,2.00 44.00,4.50 44.00,7.00" fill="#e8f2f8"/><polyline points="0.00,6.00 2.20,6.00 4.40,6.00 6.60,6.00 8.80,6.00 11.00,6.00 13.20,6.00 15.40,6.00 17.60,6.00 19.80,6.00 22.00,6.00 24.20,6.00 26.40,5.00 28.60,3.00 30.80,1.00 33.00,3.50 35.20,2.00 37.40,3.50 39.60,1.50 41.80,2.00 44.00,4.50" fill="none" stroke="#5a93b8" stroke-width="0.6"/></svg>
<svg class="a" style="left:375px;top:216px;" width="1" height="1"><text x="0.30" y="0.91" font-size="3.38" fill="#333" font-weight="normal" text-anchor="start" style="">Sessions</text></svg>
<svg class="a" style="left:375px;top:224px;" width="1" height="1"><text x="0.30" y="0.90" font-size="6.15" fill="#333" font-weight="normal" text-anchor="start" style="">1,821</text></svg>
<svg class="a" style="left:375.30px;top:225.20px;" width="44.00" height="8.00" viewBox="0 0 44.00 8.00"><polygon points="0,7.00 0.00,6.00 2.20,6.00 4.40,6.00 6.60,6.00 8.80,6.00 11.00,6.00 13.20,6.00 15.40,6.00 17.60,6.00 19.80,6.00 22.00,6.00 24.20,6.00 26.40,5.00 28.60,3.00 30.80,1.00 33.00,3.50 35.20,2.00 37.40,3.50 39.60,1.50 41.80,2.00 44.00,4.50 44.00,7.00" fill="#e8f2f8"/><polyline points="0.00,6.00 2.20,6.00 4.40,6.00 6.60,6.00 8.80,6.00 11.00,6.00 13.20,6.00 15.40,6.00 17.60,6.00 19.80,6.00 22.00,6.00 24.20,6.00 26.40,5.00 28.60,3.00 30.80,1.00 33.00,3.50 35.20,2.00 37.40,3.50 39.60,1.50 41.80,2.00 44.00,4.50" fill="none" stroke="#5a93b8" stroke-width="0.6"/></svg>
<svg class="a" style="left:426px;top:216px;" width="1" height="1"><text x="0.00" y="0.91" font-size="3.38" fill="#333" font-weight="normal" text-anchor="start" style="">Number of Sessions per User</text></svg>
<svg class="a" style="left:426px;top:224px;" width="1" height="1"><text x="0.00" y="0.90" font-size="6.15" fill="#333" font-weight="normal" text-anchor="start" style="">1.95</text></svg>
<svg class="a" style="left:426.00px;top:225.20px;" width="44.00" height="8.00" viewBox="0 0 44.00 8.00"><polygon points="0,7.00 0.00,6.00 2.20,6.00 4.40,6.00 6.60,6.00 8.80,6.00 11.00,6.00 13.20,6.00 15.40,6.00 17.60,6.00 19.80,6.00 22.00,6.00 24.20,6.00 26.40,2.50 28.60,2.25 30.80,2.25 33.00,2.40 35.20,2.25 37.40,2.35 39.60,2.20 41.80,2.25 44.00,2.30 44.00,7.00" fill="#e8f2f8"/><polyline points="0.00,6.00 2.20,6.00 4.40,6.00 6.60,6.00 8.80,6.00 11.00,6.00 13.20,6.00 15.40,6.00 17.60,6.00 19.80,6.00 22.00,6.00 24.20,6.00 26.40,2.50 28.60,2.25 30.80,2.25 33.00,2.40 35.20,2.25 37.40,2.35 39.60,2.20 41.80,2.25 44.00,2.30" fill="none" stroke="#5a93b8" stroke-width="0.6"/></svg>
<svg class="a" style="left:476px;top:216px;" width="1" height="1"><text x="0.40" y="0.91" font-size="3.38" fill="#333" font-weight="normal" text-anchor="start" style="">Pageviews</text></svg>
<svg class="a" style="left:476px;top:224px;" width="1" height="1"><text x="0.40" y="0.90" font-size="6.15" fill="#333" font-weight="normal" text-anchor="start" style="">2,391</text></svg>
<svg class="a" style="left:476.40px;top:225.20px;" width="44.00" height="8.00" viewBox="0 0 44.00 8.00"><polygon points="0,7.00 0.00,6.00 2.20,6.00 4.40,6.00 6.60,6.00 8.80,6.00 11.00,6.00 13.20,6.00 15.40,6.00 17.60,6.00 19.80,6.00 22.00,6.00 24.20,6.00 26.40,5.00 28.60,3.00 30.80,1.00 33.00,3.50 35.20,2.00 37.40,3.50 39.60,1.50 41.80,2.00 44.00,4.50 44.00,7.00" fill="#e8f2f8"/><polyline points="0.00,6.00 2.20,6.00 4.40,6.00 6.60,6.00 8.80,6.00 11.00,6.00 13.20,6.00 15.40,6.00 17.60,6.00 19.80,6.00 22.00,6.00 24.20,6.00 26.40,5.00 28.60,3.00 30.80,1.00 33.00,3.50 35.20,2.00 37.40,3.50 39.60,1.50 41.80,2.00 44.00,4.50" fill="none" stroke="#5a93b8" stroke-width="0.6"/></svg>
<svg class="a" style="left:274px;top:243px;" width="1" height="1"><text x="0.70" y="0.31" font-size="3.38" fill="#333" font-weight="normal" text-anchor="start" style="">Pages / Session</text></svg>
<svg class="a" style="left:274px;top:251px;" width="1" height="1"><text x="0.70" y="0.00" font-size="6.15" fill="#333" font-weight="normal" text-anchor="start" style="">1.31</text></svg>
<svg class="a" style="left:274.70px;top:251.50px;" width="44.00" height="8.00" viewBox="0 0 44.00 8.00"><polygon points="0,7.00 0.00,6.00 2.20,6.00 4.40,6.00 6.60,6.00 8.80,6.00 11.00,6.00 13.20,6.00 15.40,6.00 17.60,6.00 19.80,6.00 22.00,6.00 24.20,6.00 26.40,2.50 28.60,2.25 30.80,2.25 33.00,2.40 35.20,2.25 37.40,2.35 39.60,2.20 41.80,2.25 44.00,2.30 44.00,7.00" fill="#e8f2f8"/><polyline points="0.00,6.00 2.20,6.00 4.40,6.00 6.60,6.00 8.80,6.00 11.00,6.00 13.20,6.00 15.40,6.00 17.60,6.00 19.80,6.00 22.00,6.00 24.20,6.00 26.40,2.50 28.60,2.25 30.80,2.25 33.00,2.40 35.20,2.25 37.40,2.35 39.60,2.20 41.80,2.25 44.00,2.30" fill="none" stroke="#5a93b8" stroke-width="0.6"/></svg>
<svg class="a" style="left:324px;top:243px;" width="1" height="1"><text x="0.80" y="0.31" font-size="3.38" fill="#333" font-weight="normal" text-anchor="start" style="">Avg. Session Duration</text></svg>
<svg class="a" style="left:324px;top:251px;" width="1" height="1"><text x="0.80" y="0.00" font-size="6.15" fill="#333" font-weight="normal" text-anchor="start" style="">00:01:09</text></svg>
<svg class="a" style="left:324.80px;top:251.50px;" width="44.00" height="8.00" viewBox="0 0 44.00 8.00"><polygon points="0,7.00 0.00,6.00 2.20,6.00 4.40,6.00 6.60,6.00 8.80,6.00 11.00,6.00 13.20,6.00 15.40,6.00 17.60,6.00 19.80,6.00 22.00,6.00 24.20,6.00 26.40,5.00 28.60,3.50 30.80,4.50 33.00,4.00 35.20,3.00 37.40,4.50 39.60,1.50 41.80,4.00 44.00,5.00 44.00,7.00" fill="#e8f2f8"/><polyline points="0.00,6.00 2.20,6.00 4.40,6.00 6.60,6.00 8.80,6.00 11.00,6.00 13.20,6.00 15.40,6.00 17.60,6.00 19.80,6.00 22.00,6.00 24.20,6.00 26.40,5.00 28.60,3.50 30.80,4.50 33.00,4.00 35.20,3.00 37.40,4.50 39.60,1.50 41.80,4.00 44.00,5.00" fill="none" stroke="#5a93b8" stroke-width="0.6"/></svg>
<svg class="a" style="left:375px;top:243px;" width="1" height="1"><text x="0.30" y="0.31" font-size="3.38" fill="#333" font-weight="normal" text-anchor="start" style="">Bounce Rate</text></svg>
<svg class="a" style="left:375px;top:251px;" width="1" height="1"><text x="0.30" y="0.00" font-size="6.15" fill="#333" font-weight="normal" text-anchor="start" style="">80.18%</text></svg>
<svg class="a" style="left:375.30px;top:251.50px;" width="44.00" height="8.00" viewBox="0 0 44.00 8.00"><polygon points="0,7.00 0.00,6.00 2.20,6.00 4.40,6.00 6.60,6.00 8.80,6.00 11.00,6.00 13.20,6.00 15.40,6.00 17.60,6.00 19.80,6.00 22.00,6.00 24.20,6.00 26.40,2.50 28.60,2.25 30.80,2.25 33.00,2.40 35.20,2.25 37.40,2.35 39.60,2.20 41.80,2.25 44.00,2.30 44.00,7.00" fill="#e8f2f8"/><polyline points="0.00,6.00 2.20,6.00 4.40,6.00 6.60,6.00 8.80,6.00 11.00,6.00 13.20,6.00 15.40,6.00 17.60,6.00 19.80,6.00 22.00,6.00 24.20,6.00 26.40,2.50 28.60,2.25 30.80,2.25 33.00,2.40 35.20,2.25 37.40,2.35 39.60,2.20 41.80,2.25 44.00,2.30" fill="none" stroke="#5a93b8" stroke-width="0.6"/></svg>
<div class="a" style="left:322.00px;top:213.00px;width:0.50px;height:49.00px;background:#ededed;"></div>
<div class="a" style="left:372.50px;top:213.00px;width:0.50px;height:49.00px;background:#ededed;"></div>
<div class="a" style="left:422.60px;top:213.00px;width:0.50px;height:23.00px;background:#ededed;"></div>
<div class="a" style="left:473.00px;top:213.00px;width:0.50px;height:23.00px;background:#ededed;"></div>
<div class="a" style="left:523.30px;top:213.00px;width:0.50px;height:23.00px;background:#ededed;"></div>
<div class="a" style="left:473.00px;top:236.00px;width:0.50px;height:0.00px;background:#ebebeb;"></div>
<div class="a" style="left:577.00px;top:209.40px;width:2.40px;height:2.40px;background:#1b6e9e;"></div>
<svg class="a" style="left:580px;top:211px;" width="1" height="1"><text x="0.20" y="0.94" font-size="3.45" fill="#333" font-weight="normal" text-anchor="start" style="">New Visitor</text></svg>
<div class="a" style="left:602.60px;top:209.40px;width:2.40px;height:2.40px;background:#2a9e48;"></div>
<svg class="a" style="left:604px;top:211px;" width="1" height="1"><text x="0.80" y="0.94" font-size="3.45" fill="#333" font-weight="normal" text-anchor="start" style="">Returning Visitor</text></svg>
<svg class="a" style="left:583.00px;top:217.70px;" width="47.80" height="47.80" viewBox="0 0 47.80 47.80"><circle cx="23.9" cy="23.9" r="23.9" fill="#1a8ccd"/><path d="M23.9 23.9 L23.9 0 A23.9 23.9 0 0 0 0.00 23.90 Z" fill="#2db24a" stroke="#fff" stroke-width="0.4"/></svg>
<svg class="a" style="left:590px;top:229px;" width="1" height="1"><text x="0.30" y="0.54" font-size="2.35" fill="#f4fff0" font-weight="normal" text-anchor="start" style="">24.8%</text></svg>
<svg class="a" style="left:617px;top:255px;" width="1" height="1"><text x="0.20" y="0.54" font-size="2.35" fill="#eef6ff" font-weight="normal" text-anchor="start" style="">75.2%</text></svg>
<svg class="a" style="left:273px;top:277px;" width="1" height="1"><text x="0.00" y="0.55" font-size="3.2" fill="#222" font-weight="bold" text-anchor="start" style="">Demographics</text></svg>
<div class="a" style="left:272.50px;top:278.80px;width:116.00px;height:0.60px;background:#bbb;"></div>
<div class="a" style="left:272.50px;top:279.50px;width:116.00px;height:7.00px;background:#d8e9f4;"></div>
<svg class="a" style="left:273px;top:284px;" width="1" height="1"><text x="0.60" y="0.40" font-size="3.36" fill="#222" font-weight="normal" text-anchor="start" style="">Language</text></svg>
<svg class="a" style="left:386px;top:283px" width="1" height="1"><polygon transform="translate(0.00,0.00)" points="-0.60,-0.75 0.60,0 -0.60,0.75" fill="#444"/></svg>
<svg class="a" style="left:273px;top:292px;" width="1" height="1"><text x="0.60" y="0.40" font-size="3.36" fill="#5b8fc2" font-weight="normal" text-anchor="start" style="">Country</text></svg>
<svg class="a" style="left:273px;top:300px;" width="1" height="1"><text x="0.60" y="0.20" font-size="3.36" fill="#5b8fc2" font-weight="normal" text-anchor="start" style="">City</text></svg>
<svg class="a" style="left:273px;top:308px;" width="1" height="1"><text x="0.00" y="0.95" font-size="3.2" fill="#222" font-weight="bold" text-anchor="start" style="">System</text></svg>
<div class="a" style="left:272.50px;top:310.20px;width:116.00px;height:0.60px;background:#bbb;"></div>
<svg class="a" style="left:273px;top:316px;" width="1" height="1"><text x="0.60" y="0.10" font-size="3.36" fill="#5b8fc2" font-weight="normal" text-anchor="start" style="">Browser</text></svg>
<svg class="a" style="left:273px;top:324px;" width="1" height="1"><text x="0.60" y="0.00" font-size="3.36" fill="#5b8fc2" font-weight="normal" text-anchor="start" style="">Operating System</text></svg>
<svg class="a" style="left:273px;top:332px;" width="1" height="1"><text x="0.60" y="0.00" font-size="3.36" fill="#5b8fc2" font-weight="normal" text-anchor="start" style="">Service Provider</text></svg>
<svg class="a" style="left:401px;top:277px;" width="1" height="1"><text x="0.00" y="0.51" font-size="3.1" fill="#222" font-weight="bold" text-anchor="start" style="">Language</text></svg>
<svg class="a" style="left:613px;top:277px;" width="1" height="1"><text x="0.60" y="0.47" font-size="3.0" fill="#222" font-weight="bold" text-anchor="end" style="">Users</text></svg>
<svg class="a" style="left:618px;top:277px;" width="1" height="1"><text x="0.20" y="0.47" font-size="3.0" fill="#222" font-weight="bold" text-anchor="start" style="">% Users</text></svg>
<div class="a" style="left:394.00px;top:279.30px;width:266.00px;height:0.60px;background:#c4c4c4;"></div>
<div class="a" style="left:394.00px;top:279.50px;width:266.00px;height:8.00px;background:#f6f6f6;"></div>
<div class="a" style="left:394.00px;top:287.50px;width:266.00px;height:0.50px;background:#e2e2e2;"></div>
<svg class="a" style="left:395px;top:284px;" width="1" height="1"><text x="0.80" y="0.57" font-size="3.0" fill="#444" font-weight="normal" text-anchor="start" style="">1.</text></svg>
<svg class="a" style="left:401px;top:284px;" width="1" height="1"><text x="0.00" y="0.57" font-size="3.0" fill="#5b8fc2" font-weight="normal" text-anchor="start" style="">en-us</text></svg>
<svg class="a" style="left:613px;top:284px;" width="1" height="1"><text x="0.60" y="0.57" font-size="3.0" fill="#333" font-weight="normal" text-anchor="end" style="">905</text></svg>
<div class="a" style="left:617.90px;top:281.80px;width:25.00px;height:3.40px;background:#1a7fb5;"></div>
<svg class="a" style="left:645px;top:284px;" width="1" height="1"><text x="0.50" y="0.57" font-size="3.0" fill="#333" font-weight="normal" text-anchor="start" style="">96.66%</text></svg>
<div class="a" style="left:394.00px;top:287.60px;width:266.00px;height:8.00px;background:#fff;"></div>
<div class="a" style="left:394.00px;top:295.60px;width:266.00px;height:0.50px;background:#e2e2e2;"></div>
<svg class="a" style="left:395px;top:292px;" width="1" height="1"><text x="0.80" y="0.67" font-size="3.0" fill="#444" font-weight="normal" text-anchor="start" style="">2.</text></svg>
<svg class="a" style="left:401px;top:292px;" width="1" height="1"><text x="0.00" y="0.67" font-size="3.0" fill="#5b8fc2" font-weight="normal" text-anchor="start" style="">en</text></svg>
<svg class="a" style="left:613px;top:292px;" width="1" height="1"><text x="0.60" y="0.67" font-size="3.0" fill="#333" font-weight="normal" text-anchor="end" style="">26</text></svg>
<div class="a" style="left:617.90px;top:289.90px;width:0.50px;height:3.40px;background:#6d8fa8;"></div>
<svg class="a" style="left:620px;top:292px;" width="1" height="1"><text x="0.30" y="0.67" font-size="3.0" fill="#333" font-weight="normal" text-anchor="start" style="">1.78%</text></svg>
<div class="a" style="left:394.00px;top:295.70px;width:266.00px;height:8.00px;background:#f6f6f6;"></div>
<div class="a" style="left:394.00px;top:303.70px;width:266.00px;height:0.50px;background:#e2e2e2;"></div>
<svg class="a" style="left:395px;top:300px;" width="1" height="1"><text x="0.80" y="0.77" font-size="3.0" fill="#444" font-weight="normal" text-anchor="start" style="">3.</text></svg>
<svg class="a" style="left:401px;top:300px;" width="1" height="1"><text x="0.00" y="0.77" font-size="3.0" fill="#5b8fc2" font-weight="normal" text-anchor="start" style="">c</text></svg>
<svg class="a" style="left:613px;top:300px;" width="1" height="1"><text x="0.60" y="0.77" font-size="3.0" fill="#333" font-weight="normal" text-anchor="end" style="">2</text></svg>
<div class="a" style="left:617.90px;top:298.00px;width:0.45px;height:3.40px;background:#6d8fa8;"></div>
<svg class="a" style="left:620px;top:300px;" width="1" height="1"><text x="0.30" y="0.77" font-size="3.0" fill="#333" font-weight="normal" text-anchor="start" style="">0.21%</text></svg>
<div class="a" style="left:394.00px;top:303.80px;width:266.00px;height:8.00px;background:#fff;"></div>
<div class="a" style="left:394.00px;top:311.80px;width:266.00px;height:0.50px;background:#e2e2e2;"></div>
<svg class="a" style="left:395px;top:308px;" width="1" height="1"><text x="0.80" y="0.87" font-size="3.0" fill="#444" font-weight="normal" text-anchor="start" style="">4.</text></svg>
<svg class="a" style="left:401px;top:308px;" width="1" height="1"><text x="0.00" y="0.87" font-size="3.0" fill="#5b8fc2" font-weight="normal" text-anchor="start" style="">en-gb</text></svg>
<svg class="a" style="left:613px;top:308px;" width="1" height="1"><text x="0.60" y="0.87" font-size="3.0" fill="#333" font-weight="normal" text-anchor="end" style="">2</text></svg>
<div class="a" style="left:617.90px;top:306.10px;width:0.45px;height:3.40px;background:#6d8fa8;"></div>
<svg class="a" style="left:620px;top:308px;" width="1" height="1"><text x="0.30" y="0.87" font-size="3.0" fill="#333" font-weight="normal" text-anchor="start" style="">0.11%</text></svg>
<div class="a" style="left:394.00px;top:311.90px;width:266.00px;height:8.00px;background:#f6f6f6;"></div>
<div class="a" style="left:394.00px;top:319.90px;width:266.00px;height:0.50px;background:#e2e2e2;"></div>
<svg class="a" style="left:395px;top:316px;" width="1" height="1"><text x="0.80" y="0.97" font-size="3.0" fill="#444" font-weight="normal" text-anchor="start" style="">5.</text></svg>
<svg class="a" style="left:401px;top:316px;" width="1" height="1"><text x="0.00" y="0.97" font-size="3.0" fill="#5b8fc2" font-weight="normal" text-anchor="start" style="">en-ca</text></svg>
<svg class="a" style="left:613px;top:316px;" width="1" height="1"><text x="0.60" y="0.97" font-size="3.0" fill="#333" font-weight="normal" text-anchor="end" style="">1</text></svg>
<div class="a" style="left:617.90px;top:314.20px;width:0.45px;height:3.40px;background:#6d8fa8;"></div>
<svg class="a" style="left:620px;top:316px;" width="1" height="1"><text x="0.30" y="0.97" font-size="3.0" fill="#333" font-weight="normal" text-anchor="start" style="">0.11%</text></svg>
<svg class="a" style="left:637px;top:325px;" width="1" height="1"><text x="0.30" y="0.52" font-size="3.4" fill="#4a78b8" font-weight="normal" text-anchor="start" style="">view full report</text></svg>
<div class="a" style="left:666.00px;top:96.30px;width:4.00px;height:239.70px;background:#f1f1f1;"></div>
<div class="a" style="left:666.80px;top:96.50px;width:2.40px;height:192.00px;background:#c4c4c4;border-radius:1px"></div>
<div class="a" style="left:556.00px;top:385.60px;width:544.00px;height:318.20px;background:#fff;"></div>
<div class="a" style="left:556.00px;top:385.60px;width:544.00px;height:1.00px;background:#d8d8d8;"></div>
<div class="a" style="left:556.00px;top:404.60px;width:538.00px;height:0.70px;background:#e3e5e8;"></div>
<svg class="a" style="left:561.30px;top:391.80px;" width="7.90" height="8.00" viewBox="0 0 7.90 8.00"><rect x="5.51" y="0" width="2.39" height="8.00" rx="1.20" fill="#f9ab00"/><rect x="2.75" y="3.20" width="2.39" height="4.80" rx="1.20" fill="#e37400"/><circle cx="1.20" cy="6.80" r="1.20" fill="#e37400"/></svg>
<svg class="a" style="left:575px;top:398px;" width="1" height="1"><text x="0.20" y="0.37" font-size="6.62" fill="#5f6368" font-weight="normal" text-anchor="start" style="">Analytics</text></svg>
<div class="a" style="left:606.60px;top:390.00px;width:0.50px;height:11.00px;background:#dadce0;"></div>
<svg class="a" style="left:612px;top:392px;" width="1" height="1"><text x="0.00" y="0.55" font-size="3.5" fill="#777" font-weight="normal" text-anchor="start" style="">All accounts &gt; missouriparkventures.c…</text></svg>
<svg class="a" style="left:612px;top:400px;" width="1" height="1"><text x="0.00" y="0.55" font-size="6.56" fill="#202124" font-weight="normal" text-anchor="start" style="">All Web Site Data</text></svg>
<svg class="a" style="left:667px;top:398px" width="1" height="1"><polygon transform="translate(0.60,0.70)" points="-1.05,-0.63 1.05,-0.63 0,0.73" fill="#444"/></svg>
<div class="a" style="left:684.00px;top:388.75px;width:194.60px;height:13.60px;background:#eceef0;border-radius:1.5px"></div>
<svg class="a" style="left:691.70px;top:393.40px;" width="4.40" height="4.40" viewBox="0 0 4.40 4.40"><circle cx="1.7600000000000002" cy="1.7600000000000002" r="1.2320000000000002" fill="none" stroke="#5f6368" stroke-width="0.6160000000000001"/><path d="M2.64 2.64 L4.18 4.18" stroke="#5f6368" stroke-width="0.7040000000000001"/></svg>
<svg class="a" style="left:703px;top:397px;" width="1" height="1"><text x="0.30" y="0.44" font-size="5.15" fill="#7d8185" font-weight="normal" text-anchor="start" style="">Try searching “Week over Week Growth of Sessions”</text></svg>
<svg class="a" style="left:1034.24px;top:391.40px;" width="8.96" height="7.84" viewBox="0 0 8.96 7.84"><circle cx="5.32" cy="3.08" r="3.08" fill="#4a5f95"/><circle cx="3.08" cy="4.48" r="2.52" fill="#33456f"/><path d="M0.56 7.28 L1.68 5.04 L3.36 6.16Z" fill="#33456f"/></svg>
<svg class="a" style="left:1048.70px;top:392.80px;" width="5.60" height="5.60" viewBox="0 0 5.60 5.60"><rect x="0.56" y="0.56" width="1.46" height="1.46" fill="#3c4043"/><rect x="0.56" y="3.36" width="1.46" height="1.46" fill="#3c4043"/><rect x="3.36" y="0.56" width="1.46" height="1.46" fill="#3c4043"/><rect x="3.36" y="3.36" width="1.46" height="1.46" fill="#3c4043"/></svg>
<svg class="a" style="left:1060.92px;top:391.52px" width="8.16" height="8.16"><circle cx="4.08" cy="4.08" r="3.08" fill="#333" stroke="none" stroke-width="1"/></svg>
<svg class="a" style="left:1065px;top:396px;" width="1" height="1"><text x="0.00" y="0.84" font-size="3.472" fill="#fff" font-weight="bold" text-anchor="middle" style="">?</text></svg>
<svg class="a" style="left:1076.16px;top:392.80px;" width="1.68" height="5.60" viewBox="0 0 1.68 5.60"><circle cx="0.84" cy="0.84" r="0.56" fill="#3c4043"/><circle cx="0.84" cy="2.80" r="0.56" fill="#3c4043"/><circle cx="0.84" cy="4.76" r="0.56" fill="#3c4043"/></svg>
<svg class="a" style="left:1085.52px;top:391.12px;" width="8.96" height="8.96" viewBox="0 0 8.96 8.96"><circle cx="4.4799999999999995" cy="4.4799999999999995" r="4.4799999999999995" fill="#8fa9d6"/><circle cx="4.4799999999999995" cy="3.3599999999999994" r="1.6127999999999998" fill="#2f5aa8"/><path d="M1.3439999999999999 7.615999999999999 Q4.4799999999999995 4.4799999999999995 7.615999999999999 7.615999999999999 Q4.4799999999999995 9.631999999999998 1.3439999999999999 7.615999999999999Z" fill="#2f5aa8"/></svg>
<div class="a" style="left:556.00px;top:405.30px;width:83.40px;height:298.50px;background:#f6f8fa;"></div>
<div class="a" style="left:557.00px;top:453.80px;width:75.50px;height:11.00px;background:#e8eaed;border-radius:0 6px 6px 0"></div>
<div class="a" style="left:557.00px;top:465.30px;width:75.50px;height:9.60px;background:#e2ecf7;border-radius:0 6px 6px 0"></div>
<svg class="a" style="left:564.60px;top:409.30px;" width="4.80" height="4.80" viewBox="0 0 4.80 4.80"><path d="M2.4 0 L4.8 2.16 L4.08 2.16 L4.08 4.8 L0.72 4.8 L0.72 2.16 L0 2.16Z" fill="#5f6368"/></svg>
<svg class="a" style="left:575px;top:413px;" width="1" height="1"><text x="0.10" y="0.38" font-size="4.7" fill="#55595d" font-weight="normal" text-anchor="start" style="">Home</text></svg>
<svg class="a" style="left:564.60px;top:421.30px;" width="4.80" height="4.80" viewBox="0 0 4.80 4.80"><rect x="0" y="0" width="2.016" height="2.016" fill="#5f6368"/><rect x="2.784" y="0" width="2.016" height="1.2096" fill="#5f6368"/><rect x="0" y="2.784" width="2.016" height="2.016" fill="#5f6368"/><rect x="2.784" y="2.1792" width="2.016" height="2.6208" fill="#5f6368"/></svg>
<svg class="a" style="left:560px;top:423px" width="1" height="1"><polygon transform="translate(0.50,0.70)" points="-0.84,-1.05 0.84,0 -0.84,1.05" fill="#5f6368"/></svg>
<svg class="a" style="left:575px;top:425px;" width="1" height="1"><text x="0.10" y="0.38" font-size="4.7" fill="#55595d" font-weight="normal" text-anchor="start" style="">Customization</text></svg>
<svg class="a" style="left:563px;top:437px;" width="1" height="1"><text x="0.80" y="0.58" font-size="3.3" fill="#6b6f73" font-weight="normal" text-anchor="start" style="letter-spacing:0.3px">REPORTS</text></svg>
<svg class="a" style="left:564.60px;top:444.70px;" width="4.80" height="4.80" viewBox="0 0 4.80 4.80"><circle cx="2.4" cy="2.4" r="1.9" fill="none" stroke="#5f6368" stroke-width="0.8"/><path d="M2.4 1.2 L2.4 2.4 L3.36 2.976" fill="none" stroke="#5f6368" stroke-width="0.6"/></svg>
<svg class="a" style="left:560px;top:447px" width="1" height="1"><polygon transform="translate(0.50,0.10)" points="-0.84,-1.05 0.84,0 -0.84,1.05" fill="#5f6368"/></svg>
<svg class="a" style="left:575px;top:448px;" width="1" height="1"><text x="0.10" y="0.78" font-size="4.7" fill="#55595d" font-weight="normal" text-anchor="start" style="">Realtime</text></svg>
<svg class="a" style="left:564.60px;top:456.80px;" width="4.80" height="4.80" viewBox="0 0 4.80 4.80"><circle cx="2.4" cy="1.44" r="1.056" fill="#3c4043"/><path d="M0.48 4.8 Q0.48 2.88 2.4 2.88 Q4.32 2.88 4.32 4.8Z" fill="#3c4043"/></svg>
<svg class="a" style="left:560px;top:459px" width="1" height="1"><polygon transform="translate(0.50,0.20)" points="-0.84,-1.05 0.84,0 -0.84,1.05" fill="#5f6368"/></svg>
<svg class="a" style="left:575px;top:460px;" width="1" height="1"><text x="0.10" y="0.88" font-size="4.7" fill="#55595d" font-weight="normal" text-anchor="start" style="">Audience</text></svg>
<svg class="a" style="left:578px;top:471px;" width="1" height="1"><text x="0.80" y="0.88" font-size="4.7" fill="#1a4f94" font-weight="normal" text-anchor="start" style="">Overview</text></svg>
<svg class="a" style="left:578px;top:481px;" width="1" height="1"><text x="0.80" y="0.68" font-size="4.7" fill="#55595d" font-weight="normal" text-anchor="start" style="">Active Users</text></svg>
<svg class="a" style="left:578px;top:491px;" width="1" height="1"><text x="0.80" y="0.28" font-size="4.7" fill="#55595d" font-weight="normal" text-anchor="start" style="">Lifetime Value</text></svg>
<svg class="a" style="left:578px;top:499px;" width="1" height="1"><text x="0.80" y="0.28" font-size="4.7" fill="#55595d" font-weight="normal" text-anchor="start" style="">Cohort Analysis</text></svg>
<svg class="a" style="left:578px;top:510px;" width="1" height="1"><text x="0.80" y="0.78" font-size="4.7" fill="#55595d" font-weight="normal" text-anchor="start" style="">Audiences</text></svg>
<svg class="a" style="left:578px;top:520px;" width="1" height="1"><text x="0.80" y="0.68" font-size="4.7" fill="#55595d" font-weight="normal" text-anchor="start" style="">User Explorer</text></svg>
<svg class="a" style="left:577px;top:528px" width="1" height="1"><polygon transform="translate(0.40,0.70)" points="-0.80,-1.00 0.80,0 -0.80,1.00" fill="#5f6368"/></svg>
<svg class="a" style="left:580px;top:530px;" width="1" height="1"><text x="0.30" y="0.38" font-size="4.7" fill="#55595d" font-weight="normal" text-anchor="start" style="">Demographics</text></svg>
<svg class="a" style="left:577px;top:538px" width="1" height="1"><polygon transform="translate(0.40,0.40)" points="-0.80,-1.00 0.80,0 -0.80,1.00" fill="#5f6368"/></svg>
<svg class="a" style="left:580px;top:540px;" width="1" height="1"><text x="0.30" y="0.08" font-size="4.7" fill="#55595d" font-weight="normal" text-anchor="start" style="">Interests</text></svg>
<svg class="a" style="left:577px;top:548px" width="1" height="1"><polygon transform="translate(0.40,0.20)" points="-0.80,-1.00 0.80,0 -0.80,1.00" fill="#5f6368"/></svg>
<svg class="a" style="left:580px;top:549px;" width="1" height="1"><text x="0.30" y="0.88" font-size="4.7" fill="#55595d" font-weight="normal" text-anchor="start" style="">Geo</text></svg>
<svg class="a" style="left:577px;top:557px" width="1" height="1"><polygon transform="translate(0.40,0.80)" points="-0.80,-1.00 0.80,0 -0.80,1.00" fill="#5f6368"/></svg>
<svg class="a" style="left:580px;top:559px;" width="1" height="1"><text x="0.30" y="0.48" font-size="4.7" fill="#55595d" font-weight="normal" text-anchor="start" style="">Behavior</text></svg>
<svg class="a" style="left:577px;top:567px" width="1" height="1"><polygon transform="translate(0.40,0.80)" points="-0.80,-1.00 0.80,0 -0.80,1.00" fill="#5f6368"/></svg>
<svg class="a" style="left:580px;top:569px;" width="1" height="1"><text x="0.30" y="0.48" font-size="4.7" fill="#55595d" font-weight="normal" text-anchor="start" style="">Technology</text></svg>
<svg class="a" style="left:577px;top:577px" width="1" height="1"><polygon transform="translate(0.40,0.30)" points="-0.80,-1.00 0.80,0 -0.80,1.00" fill="#5f6368"/></svg>
<svg class="a" style="left:580px;top:578px;" width="1" height="1"><text x="0.30" y="0.98" font-size="4.7" fill="#55595d" font-weight="normal" text-anchor="start" style="">Mobile</text></svg>
<svg class="a" style="left:577px;top:587px" width="1" height="1"><polygon transform="translate(0.40,0.00)" points="-0.80,-1.00 0.80,0 -0.80,1.00" fill="#5f6368"/></svg>
<svg class="a" style="left:580px;top:588px;" width="1" height="1"><text x="0.30" y="0.68" font-size="4.7" fill="#55595d" font-weight="normal" text-anchor="start" style="">Cross Device</text></svg>
<svg class="a" style="left:577px;top:596px" width="1" height="1"><polygon transform="translate(0.40,0.70)" points="-0.80,-1.00 0.80,0 -0.80,1.00" fill="#5f6368"/></svg>
<svg class="a" style="left:580px;top:598px;" width="1" height="1"><text x="0.30" y="0.38" font-size="4.7" fill="#55595d" font-weight="normal" text-anchor="start" style="">Custom</text></svg>
<svg class="a" style="left:577px;top:606px" width="1" height="1"><polygon transform="translate(0.40,0.40)" points="-0.80,-1.00 0.80,0 -0.80,1.00" fill="#5f6368"/></svg>
<svg class="a" style="left:580px;top:608px;" width="1" height="1"><text x="0.30" y="0.08" font-size="4.7" fill="#55595d" font-weight="normal" text-anchor="start" style="">Benchmarking</text></svg>
<svg class="a" style="left:578px;top:617px;" width="1" height="1"><text x="0.80" y="0.88" font-size="4.7" fill="#55595d" font-weight="normal" text-anchor="start" style="">Users Flow</text></svg>
<svg class="a" style="left:607px;top:488px;" width="1" height="1"><text x="0.80" y="0.46" font-size="2.4" fill="#e0764a" font-weight="normal" text-anchor="start" style="">BETA</text></svg>
<svg class="a" style="left:578px;top:502px;" width="1" height="1"><text x="0.90" y="0.66" font-size="2.4" fill="#e0764a" font-weight="normal" text-anchor="start" style="">BETA</text></svg>
<svg class="a" style="left:608px;top:585px;" width="1" height="1"><text x="0.30" y="0.86" font-size="2.4" fill="#e0764a" font-weight="normal" text-anchor="start" style="">BETA</text></svg>
<svg class="a" style="left:564.60px;top:624.80px;" width="4.80" height="4.80" viewBox="0 0 4.80 4.80"><path d="M0.48 0.96 L2.16 0.96 L2.16 3.84 L0.48 3.84 M2.16 2.4 L4.8 2.4" fill="none" stroke="#5f6368" stroke-width="0.672"/></svg>
<svg class="a" style="left:560px;top:627px" width="1" height="1"><polygon transform="translate(0.50,0.20)" points="-0.84,-1.05 0.84,0 -0.84,1.05" fill="#5f6368"/></svg>
<svg class="a" style="left:575px;top:628px;" width="1" height="1"><text x="0.10" y="0.88" font-size="4.7" fill="#55595d" font-weight="normal" text-anchor="start" style="">Acquisition</text></svg>
<svg class="a" style="left:564.60px;top:636.80px;" width="4.80" height="4.80" viewBox="0 0 4.80 4.80"><rect x="0.24" y="0.72" width="4.32" height="3.36" fill="none" stroke="#5f6368" stroke-width="0.576"/><rect x="0.24" y="0.72" width="4.32" height="0.96" fill="#5f6368"/></svg>
<svg class="a" style="left:560px;top:639px" width="1" height="1"><polygon transform="translate(0.50,0.20)" points="-0.84,-1.05 0.84,0 -0.84,1.05" fill="#5f6368"/></svg>
<svg class="a" style="left:575px;top:640px;" width="1" height="1"><text x="0.10" y="0.88" font-size="4.7" fill="#55595d" font-weight="normal" text-anchor="start" style="">Behavior</text></svg>
<svg class="a" style="left:564.60px;top:649.00px;" width="4.80" height="4.80" viewBox="0 0 4.80 4.80"><path d="M0.72 4.8 L0.72 0.24 L4.08 0.24 L3.36 1.68 L4.08 3.12 L1.344 3.12 L1.344 4.8Z" fill="#3c4043"/></svg>
<svg class="a" style="left:560px;top:651px" width="1" height="1"><polygon transform="translate(0.50,0.40)" points="-0.84,-1.05 0.84,0 -0.84,1.05" fill="#5f6368"/></svg>
<svg class="a" style="left:575px;top:653px;" width="1" height="1"><text x="0.10" y="0.08" font-size="4.7" fill="#55595d" font-weight="normal" text-anchor="start" style="">Conversions</text></svg>
<div class="a" style="left:557.00px;top:654.80px;width:76.00px;height:0.50px;background:#e6e6e6;"></div>
<svg class="a" style="left:564.60px;top:657.40px;" width="4.80" height="4.80" viewBox="0 0 4.80 4.80"><circle cx="0.96" cy="0.96" r="0.72" fill="#5f6368"/><circle cx="3.84" cy="3.84" r="0.72" fill="#5f6368"/><path d="M0.96 1.44 L0.96 2.4 L3.36 2.4 L3.36 3.5999999999999996 M1.92 0.96 L4.32 0.96" fill="none" stroke="#5f6368" stroke-width="0.576"/></svg>
<svg class="a" style="left:575px;top:661px;" width="1" height="1"><text x="0.10" y="0.48" font-size="4.7" fill="#55595d" font-weight="normal" text-anchor="start" style="">Attribution</text></svg>
<svg class="a" style="left:598px;top:658px;" width="1" height="1"><text x="0.80" y="0.46" font-size="2.4" fill="#e0764a" font-weight="normal" text-anchor="start" style="">BETA</text></svg>
<svg class="a" style="left:564.60px;top:669.40px;" width="4.80" height="4.80" viewBox="0 0 4.80 4.80"><circle cx="2.4" cy="1.92" r="1.44" fill="none" stroke="#5f6368" stroke-width="0.576"/><rect x="1.728" y="3.5999999999999996" width="1.344" height="0.96" fill="#5f6368"/></svg>
<svg class="a" style="left:575px;top:673px;" width="1" height="1"><text x="0.10" y="0.48" font-size="4.7" fill="#55595d" font-weight="normal" text-anchor="start" style="">Discover</text></svg>
<svg class="a" style="left:564.60px;top:681.50px;" width="4.80" height="4.80" viewBox="0 0 4.80 4.80"><polygon points="4.80,2.40 4.00,3.06 4.10,4.10 3.06,4.00 2.40,4.80 1.74,4.00 0.70,4.10 0.80,3.06 0.00,2.40 0.80,1.74 0.70,0.70 1.74,0.80 2.40,0.00 3.06,0.80 4.10,0.70 4.00,1.74" fill="#3c4043"/><circle cx="2.4" cy="2.4" r="0.768" fill="#f6f8fa"/></svg>
<svg class="a" style="left:575px;top:685px;" width="1" height="1"><text x="0.10" y="0.58" font-size="4.7" fill="#55595d" font-weight="normal" text-anchor="start" style="">Admin</text></svg>
<div class="a" style="left:557.00px;top:690.50px;width:76.00px;height:0.50px;background:#e3e3e3;"></div>
<svg class="a" style="left:625.20px;top:694.40px;" width="3.00" height="4.60" viewBox="0 0 3.00 4.60"><path d="M2.4 0.4 L0.6 2.3 L2.4 4.2" fill="none" stroke="#5f6368" stroke-width="0.9"/></svg>
<div class="a" style="left:639.40px;top:405.30px;width:454.60px;height:16.50px;background:#f6f7f8;"></div>
<div class="a" style="left:639.40px;top:421.60px;width:454.60px;height:0.50px;background:#efefef;"></div>
<svg class="a" style="left:641px;top:417px;" width="1" height="1"><text x="0.00" y="0.43" font-size="5.1" fill="#2a2a2a" font-weight="bold" text-anchor="start" style="">Audience Overview</text></svg>
<svg class="a" style="left:690.65px;top:413.25px;" width="3.90" height="3.90" viewBox="0 0 3.90 3.90"><path d="M1.95 0 L3.9 0.78 L3.9 1.95 Q3.9 3.315 1.95 3.9 Q0 3.315 0 1.95 L0 0.78Z" fill="#34a853"/><path d="M1.092 1.95 L1.755 2.652 L2.925 1.365" fill="none" stroke="#fff" stroke-width="0.46799999999999997"/></svg>
<svg class="a" style="left:990.55px;top:413.45px;" width="3.50" height="3.50" viewBox="0 0 3.50 3.50"><rect x="0.35" y="0.35" width="2.80" height="2.80" fill="none" stroke="#5f6368" stroke-width="0.56"/><rect x="1.05" y="0.35" width="1.40" height="1.05" fill="#5f6368"/><rect x="1.05" y="1.93" width="1.40" height="0.88" fill="#5f6368"/></svg>
<svg class="a" style="left:997px;top:416px;" width="1" height="1"><text x="0.80" y="0.37" font-size="3.0" fill="#5f6368" font-weight="bold" text-anchor="start" style="letter-spacing:0.05px">SAVE</text></svg>
<svg class="a" style="left:1013.25px;top:413.45px;" width="3.50" height="3.50" viewBox="0 0 3.50 3.50"><path d="M1.75 0.18 L1.75 2.27 M0.88 1.47 L1.75 2.35 L2.62 1.47 M0.18 2.10 L0.18 3.22 L3.32 3.22 L3.32 2.10" fill="none" stroke="#5f6368" stroke-width="0.46"/></svg>
<svg class="a" style="left:1020px;top:416px;" width="1" height="1"><text x="0.00" y="0.37" font-size="3.0" fill="#5f6368" font-weight="bold" text-anchor="start" style="letter-spacing:0.05px">EXPORT</text></svg>
<svg class="a" style="left:1038.25px;top:413.45px;" width="3.50" height="3.50" viewBox="0 0 3.50 3.50"><path d="M2.80 0.53 L0.70 1.75 L2.80 2.98" fill="none" stroke="#5f6368" stroke-width="0.42"/><circle cx="2.80" cy="0.53" r="0.53" fill="#5f6368"/><circle cx="0.70" cy="1.75" r="0.53" fill="#5f6368"/><circle cx="2.80" cy="2.98" r="0.53" fill="#5f6368"/></svg>
<svg class="a" style="left:1046px;top:416px;" width="1" height="1"><text x="0.50" y="0.37" font-size="3.0" fill="#5f6368" font-weight="bold" text-anchor="start" style="letter-spacing:0.05px">SHARE</text></svg>
<svg class="a" style="left:1067.25px;top:413.45px;" width="3.50" height="3.50" viewBox="0 0 3.50 3.50"><circle cx="1.57" cy="1.57" r="1.33" fill="none" stroke="#5f6368" stroke-width="0.46"/><path d="M0.88 1.93 L1.47 1.22 L1.93 1.75 L2.45 1.05" fill="none" stroke="#5f6368" stroke-width="0.42"/><circle cx="2.98" cy="2.98" r="0.53" fill="#5f6368"/></svg>
<svg class="a" style="left:1074px;top:416px;" width="1" height="1"><text x="0.50" y="0.37" font-size="3.0" fill="#5f6368" font-weight="bold" text-anchor="start" style="letter-spacing:0.05px">INSIGHTS</text></svg>
<div class="a" style="left:1062.80px;top:412.20px;width:0.40px;height:6.50px;background:#ccc;"></div>
<svg class="a" style="left:1025px;top:429px;" width="1" height="1"><text x="0.80" y="0.75" font-size="4.62" fill="#3c4043" font-weight="normal" text-anchor="start" style="">Sep 1, 2021 - Sep 30, 2021</text></svg>
<svg class="a" style="left:1087px;top:428px" width="1" height="1"><polygon transform="translate(0.30,0.40)" points="-0.90,-0.54 0.90,-0.54 0,0.63" fill="#777"/></svg>
<div class="a" style="left:643.60px;top:424.80px;width:104.00px;height:18.60px;background:#fff;border:0.5px solid #f5f5f5;"></div>
<svg class="a" style="left:649.90px;top:428.10px" width="11.40" height="11.40"><circle cx="5.70" cy="5.70" r="4.50" fill="none" stroke="#245f7a" stroke-width="1.2"/></svg>
<svg class="a" style="left:663px;top:432px;" width="1" height="1"><text x="0.50" y="0.76" font-size="3.8" fill="#333" font-weight="bold" text-anchor="start" style="">All Users</text></svg>
<svg class="a" style="left:663px;top:437px;" width="1" height="1"><text x="0.50" y="0.06" font-size="3.25" fill="#888" font-weight="normal" text-anchor="start" style="">100.00% Users</text></svg>
<div class="a" style="left:752.00px;top:424.80px;width:110.00px;height:18.60px;background:#fff;border:0.5px solid #f4f4f4;"></div>
<svg class="a" style="left:755.80px;top:428.30px" width="10.20" height="10.20"><circle cx="5.10" cy="5.10" r="4.40" fill="none" stroke="#d5d5d5" stroke-width="0.7"/></svg>
<svg class="a" style="left:768px;top:434px;" width="1" height="1"><text x="0.80" y="0.70" font-size="4.2" fill="#8a8a8a" font-weight="normal" text-anchor="start" style="">+ Add Segment</text></svg>
<div class="a" style="left:643.60px;top:446.60px;width:20.90px;height:8.60px;background:#fff;border:0.5px solid #e6e6e6;border-bottom:none"></div>
<svg class="a" style="left:645px;top:452px;" width="1" height="1"><text x="0.40" y="0.40" font-size="3.35" fill="#222" font-weight="bold" text-anchor="start" style="">Overview</text></svg>
<div class="a" style="left:664.50px;top:454.90px;width:429.00px;height:0.50px;background:#e9e9e9;"></div>
<div class="a" style="left:646.00px;top:458.30px;width:20.00px;height:9.20px;background:#fff;border:0.5px solid #dedede;"></div>
<svg class="a" style="left:648px;top:463px;" width="1" height="1"><text x="0.00" y="0.91" font-size="3.1" fill="#333" font-weight="normal" text-anchor="start" style="">Users</text></svg>
<svg class="a" style="left:662px;top:462px" width="1" height="1"><polygon transform="translate(0.30,0.90)" points="-0.85,-0.51 0.85,-0.51 0,0.59" fill="#555"/></svg>
<svg class="a" style="left:667px;top:463px;" width="1" height="1"><text x="0.60" y="0.74" font-size="2.9" fill="#555" font-weight="bold" text-anchor="start" style="">VS.</text></svg>
<svg class="a" style="left:676px;top:463px;" width="1" height="1"><text x="0.00" y="0.95" font-size="3.2" fill="#5a5e62" font-weight="normal" text-anchor="start" style="">Select a metric</text></svg>
<div class="a" style="left:1036.00px;top:458.20px;width:14.00px;height:9.40px;background:#fff;border:0.5px solid #dfdfdf;"></div>
<svg class="a" style="left:1043px;top:463px;" width="1" height="1"><text x="0.00" y="0.97" font-size="3.0" fill="#333" font-weight="bold" text-anchor="middle" style="">Hourly</text></svg>
<div class="a" style="left:1050.00px;top:458.20px;width:11.00px;height:9.40px;background:#e4e4e4;border:0.5px solid #dfdfdf;"></div>
<svg class="a" style="left:1055px;top:463px;" width="1" height="1"><text x="0.50" y="0.97" font-size="3.0" fill="#333" font-weight="bold" text-anchor="middle" style="">Day</text></svg>
<div class="a" style="left:1061.00px;top:458.20px;width:12.00px;height:9.40px;background:#fff;border:0.5px solid #dfdfdf;"></div>
<svg class="a" style="left:1067px;top:463px;" width="1" height="1"><text x="0.00" y="0.97" font-size="3.0" fill="#333" font-weight="bold" text-anchor="middle" style="">Week</text></svg>
<div class="a" style="left:1073.00px;top:458.20px;width:15.00px;height:9.40px;background:#fff;border:0.5px solid #dfdfdf;"></div>
<svg class="a" style="left:1080px;top:463px;" width="1" height="1"><text x="0.50" y="0.97" font-size="3.0" fill="#333" font-weight="bold" text-anchor="middle" style="">Month</text></svg>
<svg class="a" style="left:645.35px;top:472.85px" width="4.50" height="4.50"><circle cx="2.25" cy="2.25" r="1.25" fill="#27657f" stroke="none" stroke-width="1"/></svg>
<svg class="a" style="left:651px;top:476px;" width="1" height="1"><text x="0.20" y="0.55" font-size="3.5" fill="#333" font-weight="bold" text-anchor="start" style="">Users</text></svg>
<div class="a" style="left:648.00px;top:484.60px;width:434.00px;height:0.40px;background:#f4f4f4;"></div>
<div class="a" style="left:648.00px;top:498.30px;width:434.00px;height:0.40px;background:#f4f4f4;"></div>
<div class="a" style="left:648.00px;top:511.90px;width:434.00px;height:0.40px;background:#f4f4f4;"></div>
<svg class="a" style="left:644.90px;top:478.60px;" width="439.90" height="45.10" viewBox="0 0 439.90 45.10"><polygon points="3.00,42.10 3.00,21.40 17.96,22.90 32.92,20.80 47.89,26.10 62.85,34.90 77.81,26.10 92.77,26.10 107.73,23.70 122.70,23.80 137.66,24.80 152.62,29.50 167.58,34.20 182.54,27.40 197.51,28.30 212.47,26.30 227.43,27.40 242.39,25.50 257.36,29.80 272.32,36.40 287.28,25.90 302.24,4.10 317.20,28.00 332.17,27.40 347.13,26.30 362.09,29.70 377.05,36.00 392.01,3.00 406.98,30.00 421.94,28.30 436.90,24.60 436.90,42.10" fill="#e9f3f8"/><line x1="3.00" y1="42.10" x2="436.90" y2="42.10" stroke="#aeb6bb" stroke-width="1"/><polyline points="3.00,21.40 17.96,22.90 32.92,20.80 47.89,26.10 62.85,34.90 77.81,26.10 92.77,26.10 107.73,23.70 122.70,23.80 137.66,24.80 152.62,29.50 167.58,34.20 182.54,27.40 197.51,28.30 212.47,26.30 227.43,27.40 242.39,25.50 257.36,29.80 272.32,36.40 287.28,25.90 302.24,4.10 317.20,28.00 332.17,27.40 347.13,26.30 362.09,29.70 377.05,36.00 392.01,3.00 406.98,30.00 421.94,28.30 436.90,24.60" fill="none" stroke="#2a6787" stroke-width="1.3" stroke-linejoin="round"/><circle cx="3.00" cy="21.40" r="1.2" fill="#2a6787"/><circle cx="17.96" cy="22.90" r="1.2" fill="#2a6787"/><circle cx="32.92" cy="20.80" r="1.2" fill="#2a6787"/><circle cx="47.89" cy="26.10" r="1.2" fill="#2a6787"/><circle cx="62.85" cy="34.90" r="1.2" fill="#2a6787"/><circle cx="77.81" cy="26.10" r="1.2" fill="#2a6787"/><circle cx="92.77" cy="26.10" r="1.2" fill="#2a6787"/><circle cx="107.73" cy="23.70" r="1.2" fill="#2a6787"/><circle cx="122.70" cy="23.80" r="1.2" fill="#2a6787"/><circle cx="137.66" cy="24.80" r="1.2" fill="#2a6787"/><circle cx="152.62" cy="29.50" r="1.2" fill="#2a6787"/><circle cx="167.58" cy="34.20" r="1.2" fill="#2a6787"/><circle cx="182.54" cy="27.40" r="1.2" fill="#2a6787"/><circle cx="197.51" cy="28.30" r="1.2" fill="#2a6787"/><circle cx="212.47" cy="26.30" r="1.2" fill="#2a6787"/><circle cx="227.43" cy="27.40" r="1.2" fill="#2a6787"/><circle cx="242.39" cy="25.50" r="1.2" fill="#2a6787"/><circle cx="257.36" cy="29.80" r="1.2" fill="#2a6787"/><circle cx="272.32" cy="36.40" r="1.2" fill="#2a6787"/><circle cx="287.28" cy="25.90" r="1.2" fill="#2a6787"/><circle cx="302.24" cy="4.10" r="1.2" fill="#2a6787"/><circle cx="317.20" cy="28.00" r="1.2" fill="#2a6787"/><circle cx="332.17" cy="27.40" r="1.2" fill="#2a6787"/><circle cx="347.13" cy="26.30" r="1.2" fill="#2a6787"/><circle cx="362.09" cy="29.70" r="1.2" fill="#2a6787"/><circle cx="377.05" cy="36.00" r="1.2" fill="#2a6787"/><circle cx="392.01" cy="3.00" r="1.2" fill="#2a6787"/><circle cx="406.98" cy="30.00" r="1.2" fill="#2a6787"/><circle cx="421.94" cy="28.30" r="1.2" fill="#2a6787"/><circle cx="436.90" cy="24.60" r="1.2" fill="#2a6787"/></svg>
<svg class="a" style="left:649px;top:483px;" width="1" height="1"><text x="0.00" y="0.74" font-size="2.9" fill="#666" font-weight="normal" text-anchor="start" style="">600</text></svg>
<svg class="a" style="left:649px;top:497px;" width="1" height="1"><text x="0.00" y="0.54" font-size="2.9" fill="#666" font-weight="normal" text-anchor="start" style="">400</text></svg>
<svg class="a" style="left:649px;top:511px;" width="1" height="1"><text x="0.00" y="0.24" font-size="2.9" fill="#666" font-weight="normal" text-anchor="start" style="">200</text></svg>
<svg class="a" style="left:662px;top:525px;" width="1" height="1"><text x="0.86" y="0.64" font-size="2.9" fill="#555" font-weight="normal" text-anchor="middle" style="">Sep 2</text></svg>
<svg class="a" style="left:677px;top:525px;" width="1" height="1"><text x="0.82" y="0.64" font-size="2.9" fill="#555" font-weight="normal" text-anchor="middle" style="">Sep 3</text></svg>
<svg class="a" style="left:692px;top:525px;" width="1" height="1"><text x="0.79" y="0.64" font-size="2.9" fill="#555" font-weight="normal" text-anchor="middle" style="">Sep 4</text></svg>
<svg class="a" style="left:707px;top:525px;" width="1" height="1"><text x="0.75" y="0.64" font-size="2.9" fill="#555" font-weight="normal" text-anchor="middle" style="">Sep 5</text></svg>
<svg class="a" style="left:722px;top:525px;" width="1" height="1"><text x="0.71" y="0.64" font-size="2.9" fill="#555" font-weight="normal" text-anchor="middle" style="">Sep 6</text></svg>
<svg class="a" style="left:737px;top:525px;" width="1" height="1"><text x="0.67" y="0.64" font-size="2.9" fill="#555" font-weight="normal" text-anchor="middle" style="">Sep 7</text></svg>
<svg class="a" style="left:752px;top:525px;" width="1" height="1"><text x="0.63" y="0.64" font-size="2.9" fill="#555" font-weight="normal" text-anchor="middle" style="">Sep 8</text></svg>
<svg class="a" style="left:767px;top:525px;" width="1" height="1"><text x="0.60" y="0.64" font-size="2.9" fill="#555" font-weight="normal" text-anchor="middle" style="">Sep 9</text></svg>
<svg class="a" style="left:782px;top:525px;" width="1" height="1"><text x="0.56" y="0.64" font-size="2.9" fill="#555" font-weight="normal" text-anchor="middle" style="">Sep 10</text></svg>
<svg class="a" style="left:797px;top:525px;" width="1" height="1"><text x="0.52" y="0.64" font-size="2.9" fill="#555" font-weight="normal" text-anchor="middle" style="">Sep 11</text></svg>
<svg class="a" style="left:812px;top:525px;" width="1" height="1"><text x="0.48" y="0.64" font-size="2.9" fill="#555" font-weight="normal" text-anchor="middle" style="">Sep 12</text></svg>
<svg class="a" style="left:827px;top:525px;" width="1" height="1"><text x="0.44" y="0.64" font-size="2.9" fill="#555" font-weight="normal" text-anchor="middle" style="">Sep 13</text></svg>
<svg class="a" style="left:842px;top:525px;" width="1" height="1"><text x="0.41" y="0.64" font-size="2.9" fill="#555" font-weight="normal" text-anchor="middle" style="">Sep 14</text></svg>
<svg class="a" style="left:857px;top:525px;" width="1" height="1"><text x="0.37" y="0.64" font-size="2.9" fill="#555" font-weight="normal" text-anchor="middle" style="">Sep 15</text></svg>
<svg class="a" style="left:872px;top:525px;" width="1" height="1"><text x="0.33" y="0.64" font-size="2.9" fill="#555" font-weight="normal" text-anchor="middle" style="">Sep 16</text></svg>
<svg class="a" style="left:887px;top:525px;" width="1" height="1"><text x="0.29" y="0.64" font-size="2.9" fill="#555" font-weight="normal" text-anchor="middle" style="">Sep 17</text></svg>
<svg class="a" style="left:902px;top:525px;" width="1" height="1"><text x="0.26" y="0.64" font-size="2.9" fill="#555" font-weight="normal" text-anchor="middle" style="">Sep 18</text></svg>
<svg class="a" style="left:917px;top:525px;" width="1" height="1"><text x="0.22" y="0.64" font-size="2.9" fill="#555" font-weight="normal" text-anchor="middle" style="">Sep 19</text></svg>
<svg class="a" style="left:932px;top:525px;" width="1" height="1"><text x="0.18" y="0.64" font-size="2.9" fill="#555" font-weight="normal" text-anchor="middle" style="">Sep 20</text></svg>
<svg class="a" style="left:947px;top:525px;" width="1" height="1"><text x="0.14" y="0.64" font-size="2.9" fill="#555" font-weight="normal" text-anchor="middle" style="">Sep 21</text></svg>
<svg class="a" style="left:962px;top:525px;" width="1" height="1"><text x="0.10" y="0.64" font-size="2.9" fill="#555" font-weight="normal" text-anchor="middle" style="">Sep 22</text></svg>
<svg class="a" style="left:977px;top:525px;" width="1" height="1"><text x="0.07" y="0.64" font-size="2.9" fill="#555" font-weight="normal" text-anchor="middle" style="">Sep 23</text></svg>
<svg class="a" style="left:992px;top:525px;" width="1" height="1"><text x="0.03" y="0.64" font-size="2.9" fill="#555" font-weight="normal" text-anchor="middle" style="">Sep 24</text></svg>
<svg class="a" style="left:1006px;top:525px;" width="1" height="1"><text x="0.99" y="0.64" font-size="2.9" fill="#555" font-weight="normal" text-anchor="middle" style="">Sep 25</text></svg>
<svg class="a" style="left:1021px;top:525px;" width="1" height="1"><text x="0.95" y="0.64" font-size="2.9" fill="#555" font-weight="normal" text-anchor="middle" style="">Sep 26</text></svg>
<svg class="a" style="left:1036px;top:525px;" width="1" height="1"><text x="0.91" y="0.64" font-size="2.9" fill="#555" font-weight="normal" text-anchor="middle" style="">Sep 27</text></svg>
<svg class="a" style="left:1051px;top:525px;" width="1" height="1"><text x="0.88" y="0.64" font-size="2.9" fill="#555" font-weight="normal" text-anchor="middle" style="">Sep 28</text></svg>
<svg class="a" style="left:1066px;top:525px;" width="1" height="1"><text x="0.84" y="0.64" font-size="2.9" fill="#555" font-weight="normal" text-anchor="middle" style="">Sep 29</text></svg>
<svg class="a" style="left:1081px;top:525px;" width="1" height="1"><text x="0.80" y="0.64" font-size="2.9" fill="#555" font-weight="normal" text-anchor="middle" style="">Sep 30</text></svg>
<div class="a" style="left:647.00px;top:527.60px;width:441.00px;height:0.40px;background:#e6e6e6;"></div>
<div class="a" style="left:859.20px;top:528.30px;width:16.00px;height:0.50px;background:#c8c8c8;"></div>
<div class="a" style="left:866.30px;top:527.80px;width:1.40px;height:1.00px;background:#999;"></div>
<svg class="a" style="left:645px;top:545px;" width="1" height="1"><text x="0.90" y="0.10" font-size="3.9" fill="#333" font-weight="normal" text-anchor="start" style="">Users</text></svg>
<svg class="a" style="left:645px;top:554px;" width="1" height="1"><text x="0.90" y="0.22" font-size="7.05" fill="#333" font-weight="normal" text-anchor="start" style="">3,773</text></svg>
<svg class="a" style="left:645.90px;top:553.30px;" width="51.00" height="9.00" viewBox="0 0 51.00 9.00"><polygon points="0,8.00 0.00,5.20 1.76,5.50 3.52,5.20 5.28,5.80 7.03,6.40 8.79,5.80 10.55,5.80 12.31,5.50 14.07,5.50 15.83,5.80 17.59,6.10 19.34,6.40 21.10,5.80 22.86,5.80 24.62,5.50 26.38,5.80 28.14,5.50 29.90,6.10 31.66,6.70 33.41,5.80 35.17,1.60 36.93,5.80 38.69,5.80 40.45,5.50 42.21,6.10 43.97,6.70 45.72,1.30 47.48,6.10 49.24,5.80 51.00,5.20 51.00,8.00" fill="#e8f2f8"/><polyline points="0.00,5.20 1.76,5.50 3.52,5.20 5.28,5.80 7.03,6.40 8.79,5.80 10.55,5.80 12.31,5.50 14.07,5.50 15.83,5.80 17.59,6.10 19.34,6.40 21.10,5.80 22.86,5.80 24.62,5.50 26.38,5.80 28.14,5.50 29.90,6.10 31.66,6.70 33.41,5.80 35.17,1.60 36.93,5.80 38.69,5.80 40.45,5.50 42.21,6.10 43.97,6.70 45.72,1.30 47.48,6.10 49.24,5.80 51.00,5.20" fill="none" stroke="#5a93b8" stroke-width="0.6"/></svg>
<svg class="a" style="left:704px;top:545px;" width="1" height="1"><text x="0.00" y="0.10" font-size="3.9" fill="#333" font-weight="normal" text-anchor="start" style="">New Users</text></svg>
<svg class="a" style="left:704px;top:554px;" width="1" height="1"><text x="0.00" y="0.22" font-size="7.05" fill="#333" font-weight="normal" text-anchor="start" style="">3,011</text></svg>
<svg class="a" style="left:704.00px;top:553.30px;" width="51.00" height="9.00" viewBox="0 0 51.00 9.00"><polygon points="0,8.00 0.00,6.40 1.76,6.40 3.52,6.40 5.28,6.40 7.03,6.40 8.79,6.40 10.55,6.40 12.31,6.40 14.07,6.40 15.83,6.40 17.59,6.40 19.34,6.40 21.10,6.40 22.86,6.40 24.62,6.40 26.38,6.40 28.14,6.40 29.90,6.40 31.66,6.40 33.41,6.10 35.17,1.60 36.93,6.10 38.69,6.10 40.45,6.10 42.21,6.28 43.97,6.40 45.72,1.30 47.48,6.40 49.24,6.10 51.00,5.80 51.00,8.00" fill="#e8f2f8"/><polyline points="0.00,6.40 1.76,6.40 3.52,6.40 5.28,6.40 7.03,6.40 8.79,6.40 10.55,6.40 12.31,6.40 14.07,6.40 15.83,6.40 17.59,6.40 19.34,6.40 21.10,6.40 22.86,6.40 24.62,6.40 26.38,6.40 28.14,6.40 29.90,6.40 31.66,6.40 33.41,6.10 35.17,1.60 36.93,6.10 38.69,6.10 40.45,6.10 42.21,6.28 43.97,6.40 45.72,1.30 47.48,6.40 49.24,6.10 51.00,5.80" fill="none" stroke="#5a93b8" stroke-width="0.6"/></svg>
<svg class="a" style="left:762px;top:545px;" width="1" height="1"><text x="0.30" y="0.10" font-size="3.9" fill="#333" font-weight="normal" text-anchor="start" style="">Sessions</text></svg>
<svg class="a" style="left:762px;top:554px;" width="1" height="1"><text x="0.30" y="0.22" font-size="7.05" fill="#333" font-weight="normal" text-anchor="start" style="">8,754</text></svg>
<svg class="a" style="left:762.30px;top:553.30px;" width="51.00" height="9.00" viewBox="0 0 51.00 9.00"><polygon points="0,8.00 0.00,5.20 1.76,5.50 3.52,5.20 5.28,5.80 7.03,6.40 8.79,5.80 10.55,5.80 12.31,5.50 14.07,5.50 15.83,5.80 17.59,6.10 19.34,6.40 21.10,5.80 22.86,5.80 24.62,5.50 26.38,5.80 28.14,5.50 29.90,6.10 31.66,6.70 33.41,5.80 35.17,1.60 36.93,5.80 38.69,5.80 40.45,5.50 42.21,6.10 43.97,6.70 45.72,1.30 47.48,6.10 49.24,5.80 51.00,5.20 51.00,8.00" fill="#e8f2f8"/><polyline points="0.00,5.20 1.76,5.50 3.52,5.20 5.28,5.80 7.03,6.40 8.79,5.80 10.55,5.80 12.31,5.50 14.07,5.50 15.83,5.80 17.59,6.10 19.34,6.40 21.10,5.80 22.86,5.80 24.62,5.50 26.38,5.80 28.14,5.50 29.90,6.10 31.66,6.70 33.41,5.80 35.17,1.60 36.93,5.80 38.69,5.80 40.45,5.50 42.21,6.10 43.97,6.70 45.72,1.30 47.48,6.10 49.24,5.80 51.00,5.20" fill="none" stroke="#5a93b8" stroke-width="0.6"/></svg>
<svg class="a" style="left:820px;top:545px;" width="1" height="1"><text x="0.50" y="0.10" font-size="3.9" fill="#333" font-weight="normal" text-anchor="start" style="">Number of Sessions per User</text></svg>
<svg class="a" style="left:820px;top:554px;" width="1" height="1"><text x="0.50" y="0.22" font-size="7.05" fill="#333" font-weight="normal" text-anchor="start" style="">2.32</text></svg>
<svg class="a" style="left:820.50px;top:553.30px;" width="51.00" height="9.00" viewBox="0 0 51.00 9.00"><polygon points="0,8.00 0.00,3.70 1.76,3.70 3.52,3.70 5.28,3.70 7.03,3.70 8.79,3.70 10.55,3.70 12.31,3.70 14.07,3.70 15.83,3.70 17.59,3.70 19.34,3.70 21.10,3.70 22.86,3.70 24.62,3.70 26.38,3.70 28.14,3.70 29.90,3.70 31.66,3.70 33.41,3.70 35.17,3.70 36.93,3.70 38.69,3.70 40.45,3.70 42.21,3.70 43.97,3.70 45.72,3.70 47.48,3.70 49.24,3.70 51.00,3.70 51.00,8.00" fill="#e8f2f8"/><polyline points="0.00,3.70 1.76,3.70 3.52,3.70 5.28,3.70 7.03,3.70 8.79,3.70 10.55,3.70 12.31,3.70 14.07,3.70 15.83,3.70 17.59,3.70 19.34,3.70 21.10,3.70 22.86,3.70 24.62,3.70 26.38,3.70 28.14,3.70 29.90,3.70 31.66,3.70 33.41,3.70 35.17,3.70 36.93,3.70 38.69,3.70 40.45,3.70 42.21,3.70 43.97,3.70 45.72,3.70 47.48,3.70 49.24,3.70 51.00,3.70" fill="none" stroke="#5a93b8" stroke-width="0.6"/></svg>
<svg class="a" style="left:879px;top:545px;" width="1" height="1"><text x="0.00" y="0.10" font-size="3.9" fill="#333" font-weight="normal" text-anchor="start" style="">Pageviews</text></svg>
<svg class="a" style="left:879px;top:554px;" width="1" height="1"><text x="0.00" y="0.22" font-size="7.05" fill="#333" font-weight="normal" text-anchor="start" style="">21,718</text></svg>
<svg class="a" style="left:879.00px;top:553.30px;" width="51.00" height="9.00" viewBox="0 0 51.00 9.00"><polygon points="0,8.00 0.00,5.20 1.76,5.50 3.52,5.20 5.28,5.80 7.03,6.40 8.79,5.80 10.55,5.80 12.31,5.50 14.07,5.50 15.83,5.80 17.59,6.10 19.34,6.40 21.10,5.80 22.86,5.80 24.62,5.50 26.38,5.80 28.14,5.50 29.90,6.10 31.66,6.70 33.41,5.80 35.17,1.60 36.93,5.80 38.69,5.80 40.45,5.50 42.21,6.10 43.97,6.70 45.72,1.30 47.48,6.10 49.24,5.80 51.00,5.20 51.00,8.00" fill="#e8f2f8"/><polyline points="0.00,5.20 1.76,5.50 3.52,5.20 5.28,5.80 7.03,6.40 8.79,5.80 10.55,5.80 12.31,5.50 14.07,5.50 15.83,5.80 17.59,6.10 19.34,6.40 21.10,5.80 22.86,5.80 24.62,5.50 26.38,5.80 28.14,5.50 29.90,6.10 31.66,6.70 33.41,5.80 35.17,1.60 36.93,5.80 38.69,5.80 40.45,5.50 42.21,6.10 43.97,6.70 45.72,1.30 47.48,6.10 49.24,5.80 51.00,5.20" fill="none" stroke="#5a93b8" stroke-width="0.6"/></svg>
<svg class="a" style="left:645px;top:575px;" width="1" height="1"><text x="0.90" y="0.50" font-size="3.9" fill="#333" font-weight="normal" text-anchor="start" style="">Pages / Session</text></svg>
<svg class="a" style="left:645px;top:584px;" width="1" height="1"><text x="0.90" y="0.22" font-size="7.05" fill="#333" font-weight="normal" text-anchor="start" style="">2.48</text></svg>
<svg class="a" style="left:645.90px;top:583.80px;" width="51.00" height="9.00" viewBox="0 0 51.00 9.00"><polygon points="0,8.00 0.00,3.70 1.76,3.70 3.52,3.70 5.28,3.70 7.03,3.70 8.79,3.70 10.55,3.70 12.31,3.70 14.07,3.70 15.83,3.70 17.59,3.70 19.34,3.70 21.10,3.70 22.86,3.70 24.62,3.70 26.38,3.70 28.14,3.70 29.90,3.70 31.66,3.70 33.41,3.70 35.17,3.70 36.93,3.70 38.69,3.70 40.45,3.70 42.21,3.70 43.97,3.70 45.72,3.70 47.48,3.70 49.24,3.70 51.00,3.70 51.00,8.00" fill="#e8f2f8"/><polyline points="0.00,3.70 1.76,3.70 3.52,3.70 5.28,3.70 7.03,3.70 8.79,3.70 10.55,3.70 12.31,3.70 14.07,3.70 15.83,3.70 17.59,3.70 19.34,3.70 21.10,3.70 22.86,3.70 24.62,3.70 26.38,3.70 28.14,3.70 29.90,3.70 31.66,3.70 33.41,3.70 35.17,3.70 36.93,3.70 38.69,3.70 40.45,3.70 42.21,3.70 43.97,3.70 45.72,3.70 47.48,3.70 49.24,3.70 51.00,3.70" fill="none" stroke="#5a93b8" stroke-width="0.6"/></svg>
<svg class="a" style="left:704px;top:575px;" width="1" height="1"><text x="0.00" y="0.50" font-size="3.9" fill="#333" font-weight="normal" text-anchor="start" style="">Avg. Session Duration</text></svg>
<svg class="a" style="left:704px;top:584px;" width="1" height="1"><text x="0.00" y="0.22" font-size="7.05" fill="#333" font-weight="normal" text-anchor="start" style="">00:01:21</text></svg>
<svg class="a" style="left:704.00px;top:583.80px;" width="51.00" height="9.00" viewBox="0 0 51.00 9.00"><polygon points="0,8.00 0.00,4.00 1.76,3.40 3.52,4.30 5.28,3.70 7.03,4.60 8.79,4.00 10.55,4.30 12.31,4.90 14.07,4.00 15.83,4.60 17.59,4.30 19.34,5.20 21.10,4.60 22.86,3.70 24.62,4.90 26.38,4.00 28.14,4.60 29.90,3.40 31.66,2.80 33.41,4.30 35.17,4.90 36.93,4.00 38.69,4.60 40.45,4.30 42.21,4.00 43.97,3.40 45.72,4.90 47.48,4.00 49.24,4.30 51.00,4.60 51.00,8.00" fill="#e8f2f8"/><polyline points="0.00,4.00 1.76,3.40 3.52,4.30 5.28,3.70 7.03,4.60 8.79,4.00 10.55,4.30 12.31,4.90 14.07,4.00 15.83,4.60 17.59,4.30 19.34,5.20 21.10,4.60 22.86,3.70 24.62,4.90 26.38,4.00 28.14,4.60 29.90,3.40 31.66,2.80 33.41,4.30 35.17,4.90 36.93,4.00 38.69,4.60 40.45,4.30 42.21,4.00 43.97,3.40 45.72,4.90 47.48,4.00 49.24,4.30 51.00,4.60" fill="none" stroke="#5a93b8" stroke-width="0.6"/></svg>
<svg class="a" style="left:762px;top:575px;" width="1" height="1"><text x="0.30" y="0.50" font-size="3.9" fill="#333" font-weight="normal" text-anchor="start" style="">Bounce Rate</text></svg>
<svg class="a" style="left:762px;top:584px;" width="1" height="1"><text x="0.30" y="0.22" font-size="7.05" fill="#333" font-weight="normal" text-anchor="start" style="">2.57%</text></svg>
<svg class="a" style="left:762.30px;top:583.80px;" width="51.00" height="9.00" viewBox="0 0 51.00 9.00"><polygon points="0,8.00 0.00,2.80 1.76,5.20 3.52,5.20 5.28,5.50 7.03,5.20 8.79,5.80 10.55,5.50 12.31,5.20 14.07,5.50 15.83,5.20 17.59,5.80 19.34,6.10 21.10,5.80 22.86,5.80 24.62,5.50 26.38,5.20 28.14,5.80 29.90,5.50 31.66,5.80 33.41,5.20 35.17,4.90 36.93,4.00 38.69,5.50 40.45,5.20 42.21,5.80 43.97,5.50 45.72,4.30 47.48,5.80 49.24,5.20 51.00,4.90 51.00,8.00" fill="#e8f2f8"/><polyline points="0.00,2.80 1.76,5.20 3.52,5.20 5.28,5.50 7.03,5.20 8.79,5.80 10.55,5.50 12.31,5.20 14.07,5.50 15.83,5.20 17.59,5.80 19.34,6.10 21.10,5.80 22.86,5.80 24.62,5.50 26.38,5.20 28.14,5.80 29.90,5.50 31.66,5.80 33.41,5.20 35.17,4.90 36.93,4.00 38.69,5.50 40.45,5.20 42.21,5.80 43.97,5.50 45.72,4.30 47.48,5.80 49.24,5.20 51.00,4.90" fill="none" stroke="#5a93b8" stroke-width="0.6"/></svg>
<div class="a" style="left:700.60px;top:541.00px;width:0.50px;height:57.00px;background:#f0f0f0;"></div>
<div class="a" style="left:759.00px;top:541.00px;width:0.50px;height:57.00px;background:#f0f0f0;"></div>
<div class="a" style="left:817.20px;top:541.00px;width:0.50px;height:26.00px;background:#f0f0f0;"></div>
<div class="a" style="left:875.50px;top:541.00px;width:0.50px;height:26.00px;background:#f0f0f0;"></div>
<div class="a" style="left:934.00px;top:541.00px;width:0.50px;height:26.00px;background:#f0f0f0;"></div>
<div class="a" style="left:996.00px;top:536.40px;width:2.60px;height:2.60px;background:#2f6592;"></div>
<svg class="a" style="left:1000px;top:539px;" width="1" height="1"><text x="0.40" y="0.15" font-size="4.05" fill="#333" font-weight="normal" text-anchor="start" style="">New Visitor</text></svg>
<div class="a" style="left:1025.50px;top:536.40px;width:2.60px;height:2.60px;background:#62a84a;"></div>
<svg class="a" style="left:1029px;top:539px;" width="1" height="1"><text x="0.60" y="0.15" font-size="4.05" fill="#333" font-weight="normal" text-anchor="start" style="">Returning Visitor</text></svg>
<svg class="a" style="left:1002.40px;top:545.90px;" width="55.40" height="55.40" viewBox="0 0 55.40 55.40"><circle cx="27.7" cy="27.7" r="27.7" fill="#3987c2"/><path d="M27.7 27.7 L27.7 0 A27.7 27.7 0 0 0 5.19 43.84 Z" fill="#62b33e" stroke="#fff" stroke-width="0.4"/></svg>
<svg class="a" style="left:1007px;top:564px;" width="1" height="1"><text x="0.60" y="0.97" font-size="2.7" fill="#f4fff0" font-weight="normal" text-anchor="start" style="">34.9%</text></svg>
<svg class="a" style="left:1045px;top:583px;" width="1" height="1"><text x="0.00" y="0.97" font-size="2.7" fill="#eef6ff" font-weight="normal" text-anchor="start" style="">65.1%</text></svg>
<svg class="a" style="left:643px;top:614px;" width="1" height="1"><text x="0.20" y="0.79" font-size="3.6" fill="#222" font-weight="bold" text-anchor="start" style="">Demographics</text></svg>
<div class="a" style="left:643.00px;top:616.40px;width:134.20px;height:0.80px;background:#c4c4c4;"></div>
<div class="a" style="left:643.00px;top:617.20px;width:134.20px;height:8.40px;background:#dbebf5;"></div>
<svg class="a" style="left:644px;top:622px;" width="1" height="1"><text x="0.80" y="0.97" font-size="3.84" fill="#222" font-weight="normal" text-anchor="start" style="">Language</text></svg>
<svg class="a" style="left:773px;top:621px" width="1" height="1"><polygon transform="translate(0.30,0.60)" points="-0.68,-0.85 0.68,0 -0.68,0.85" fill="#444"/></svg>
<svg class="a" style="left:644px;top:631px;" width="1" height="1"><text x="0.80" y="0.97" font-size="3.84" fill="#6c97c4" font-weight="normal" text-anchor="start" style="">Country</text></svg>
<svg class="a" style="left:644px;top:640px;" width="1" height="1"><text x="0.80" y="0.97" font-size="3.84" fill="#6c97c4" font-weight="normal" text-anchor="start" style="">City</text></svg>
<svg class="a" style="left:643px;top:651px;" width="1" height="1"><text x="0.20" y="0.49" font-size="3.6" fill="#222" font-weight="bold" text-anchor="start" style="">System</text></svg>
<div class="a" style="left:643.00px;top:653.00px;width:134.20px;height:0.80px;background:#c4c4c4;"></div>
<svg class="a" style="left:644px;top:659px;" width="1" height="1"><text x="0.80" y="0.47" font-size="3.84" fill="#6c97c4" font-weight="normal" text-anchor="start" style="">Browser</text></svg>
<svg class="a" style="left:644px;top:668px;" width="1" height="1"><text x="0.80" y="0.47" font-size="3.84" fill="#6c97c4" font-weight="normal" text-anchor="start" style="">Operating System</text></svg>
<svg class="a" style="left:644px;top:677px;" width="1" height="1"><text x="0.80" y="0.57" font-size="3.84" fill="#6c97c4" font-weight="normal" text-anchor="start" style="">Service Provider</text></svg>
<svg class="a" style="left:643px;top:687px;" width="1" height="1"><text x="0.20" y="0.79" font-size="3.6" fill="#222" font-weight="bold" text-anchor="start" style="">Mobile</text></svg>
<div class="a" style="left:643.00px;top:689.30px;width:134.20px;height:0.80px;background:#c4c4c4;"></div>
<svg class="a" style="left:644px;top:695px;" width="1" height="1"><text x="0.80" y="0.97" font-size="3.84" fill="#6c97c4" font-weight="normal" text-anchor="start" style="">Operating System</text></svg>
<svg class="a" style="left:644px;top:704px;" width="1" height="1"><text x="0.80" y="0.77" font-size="3.84" fill="#6c97c4" font-weight="normal" text-anchor="start" style="">Service Provider</text></svg>
<div class="a" style="left:600.00px;top:703.80px;width:300.00px;height:12.00px;background:#fff;"></div>
<svg class="a" style="left:792px;top:614px;" width="1" height="1"><text x="0.00" y="0.55" font-size="3.5" fill="#222" font-weight="bold" text-anchor="start" style="">Language</text></svg>
<svg class="a" style="left:1037px;top:614px;" width="1" height="1"><text x="0.60" y="0.52" font-size="3.4" fill="#222" font-weight="bold" text-anchor="end" style="">Users</text></svg>
<svg class="a" style="left:1042px;top:614px;" width="1" height="1"><text x="0.40" y="0.52" font-size="3.4" fill="#222" font-weight="bold" text-anchor="start" style="">% Users</text></svg>
<div class="a" style="left:783.80px;top:616.50px;width:307.50px;height:0.80px;background:#c4c4c4;"></div>
<div class="a" style="left:783.80px;top:617.30px;width:307.50px;height:8.90px;background:#f6f6f6;"></div>
<div class="a" style="left:783.80px;top:626.20px;width:307.50px;height:0.55px;background:#e2e2e2;"></div>
<svg class="a" style="left:785px;top:623px;" width="1" height="1"><text x="0.80" y="0.00" font-size="3.5" fill="#444" font-weight="normal" text-anchor="start" style="">1.</text></svg>
<svg class="a" style="left:792px;top:623px;" width="1" height="1"><text x="0.00" y="0.00" font-size="3.5" fill="#6c97c4" font-weight="normal" text-anchor="start" style="">en-us</text></svg>
<svg class="a" style="left:1038px;top:623px;" width="1" height="1"><text x="0.00" y="0.00" font-size="3.5" fill="#333" font-weight="normal" text-anchor="end" style="">3,341</text></svg>
<div class="a" style="left:1043.00px;top:619.75px;width:26.00px;height:4.00px;background:#3a80b5;"></div>
<svg class="a" style="left:1072px;top:623px;" width="1" height="1"><text x="0.00" y="0.00" font-size="3.5" fill="#333" font-weight="normal" text-anchor="start" style="">88.52%</text></svg>
<div class="a" style="left:783.80px;top:626.72px;width:307.50px;height:8.90px;background:#fff;"></div>
<div class="a" style="left:783.80px;top:635.62px;width:307.50px;height:0.55px;background:#e2e2e2;"></div>
<svg class="a" style="left:785px;top:632px;" width="1" height="1"><text x="0.80" y="0.42" font-size="3.5" fill="#444" font-weight="normal" text-anchor="start" style="">2.</text></svg>
<svg class="a" style="left:792px;top:632px;" width="1" height="1"><text x="0.00" y="0.42" font-size="3.5" fill="#6c97c4" font-weight="normal" text-anchor="start" style="">en-gb</text></svg>
<svg class="a" style="left:1038px;top:632px;" width="1" height="1"><text x="0.00" y="0.42" font-size="3.5" fill="#333" font-weight="normal" text-anchor="end" style="">153</text></svg>
<div class="a" style="left:1043.00px;top:629.17px;width:1.00px;height:4.00px;background:#3a80b5;"></div>
<svg class="a" style="left:1046px;top:632px;" width="1" height="1"><text x="0.30" y="0.42" font-size="3.5" fill="#333" font-weight="normal" text-anchor="start" style="">4.05%</text></svg>
<div class="a" style="left:783.80px;top:636.14px;width:307.50px;height:8.90px;background:#f6f6f6;"></div>
<div class="a" style="left:783.80px;top:645.04px;width:307.50px;height:0.55px;background:#e2e2e2;"></div>
<svg class="a" style="left:785px;top:641px;" width="1" height="1"><text x="0.80" y="0.84" font-size="3.5" fill="#444" font-weight="normal" text-anchor="start" style="">3.</text></svg>
<svg class="a" style="left:792px;top:641px;" width="1" height="1"><text x="0.00" y="0.84" font-size="3.5" fill="#6c97c4" font-weight="normal" text-anchor="start" style="">en</text></svg>
<svg class="a" style="left:1038px;top:641px;" width="1" height="1"><text x="0.00" y="0.84" font-size="3.5" fill="#333" font-weight="normal" text-anchor="end" style="">38</text></svg>
<div class="a" style="left:1043.00px;top:638.59px;width:0.45px;height:4.00px;background:#b8c4cc;"></div>
<svg class="a" style="left:1046px;top:641px;" width="1" height="1"><text x="0.30" y="0.84" font-size="3.5" fill="#333" font-weight="normal" text-anchor="start" style="">1.01%</text></svg>
<div class="a" style="left:783.80px;top:645.56px;width:307.50px;height:8.90px;background:#fff;"></div>
<div class="a" style="left:783.80px;top:654.46px;width:307.50px;height:0.55px;background:#e2e2e2;"></div>
<svg class="a" style="left:785px;top:651px;" width="1" height="1"><text x="0.80" y="0.26" font-size="3.5" fill="#444" font-weight="normal" text-anchor="start" style="">4.</text></svg>
<svg class="a" style="left:792px;top:651px;" width="1" height="1"><text x="0.00" y="0.26" font-size="3.5" fill="#6c97c4" font-weight="normal" text-anchor="start" style="">en-au</text></svg>
<svg class="a" style="left:1038px;top:651px;" width="1" height="1"><text x="0.00" y="0.26" font-size="3.5" fill="#333" font-weight="normal" text-anchor="end" style="">17</text></svg>
<div class="a" style="left:1043.00px;top:648.01px;width:0.45px;height:4.00px;background:#b8c4cc;"></div>
<svg class="a" style="left:1046px;top:651px;" width="1" height="1"><text x="0.30" y="0.26" font-size="3.5" fill="#333" font-weight="normal" text-anchor="start" style="">0.45%</text></svg>
<div class="a" style="left:783.80px;top:654.98px;width:307.50px;height:8.90px;background:#f6f6f6;"></div>
<div class="a" style="left:783.80px;top:663.88px;width:307.50px;height:0.55px;background:#e2e2e2;"></div>
<svg class="a" style="left:785px;top:660px;" width="1" height="1"><text x="0.80" y="0.68" font-size="3.5" fill="#444" font-weight="normal" text-anchor="start" style="">5.</text></svg>
<svg class="a" style="left:792px;top:660px;" width="1" height="1"><text x="0.00" y="0.68" font-size="3.5" fill="#6c97c4" font-weight="normal" text-anchor="start" style="">it-it</text></svg>
<svg class="a" style="left:1038px;top:660px;" width="1" height="1"><text x="0.00" y="0.68" font-size="3.5" fill="#333" font-weight="normal" text-anchor="end" style="">17</text></svg>
<div class="a" style="left:1043.00px;top:657.43px;width:0.45px;height:4.00px;background:#b8c4cc;"></div>
<svg class="a" style="left:1046px;top:660px;" width="1" height="1"><text x="0.30" y="0.68" font-size="3.5" fill="#333" font-weight="normal" text-anchor="start" style="">0.45%</text></svg>
<div class="a" style="left:783.80px;top:664.40px;width:307.50px;height:8.90px;background:#fff;"></div>
<div class="a" style="left:783.80px;top:673.30px;width:307.50px;height:0.55px;background:#e2e2e2;"></div>
<svg class="a" style="left:785px;top:670px;" width="1" height="1"><text x="0.80" y="0.10" font-size="3.5" fill="#444" font-weight="normal" text-anchor="start" style="">6.</text></svg>
<svg class="a" style="left:792px;top:670px;" width="1" height="1"><text x="0.00" y="0.10" font-size="3.5" fill="#6c97c4" font-weight="normal" text-anchor="start" style="">es-es</text></svg>
<svg class="a" style="left:1038px;top:670px;" width="1" height="1"><text x="0.00" y="0.10" font-size="3.5" fill="#333" font-weight="normal" text-anchor="end" style="">15</text></svg>
<div class="a" style="left:1043.00px;top:666.85px;width:0.45px;height:4.00px;background:#b8c4cc;"></div>
<svg class="a" style="left:1046px;top:670px;" width="1" height="1"><text x="0.30" y="0.10" font-size="3.5" fill="#333" font-weight="normal" text-anchor="start" style="">0.40%</text></svg>
<div class="a" style="left:783.80px;top:673.82px;width:307.50px;height:8.90px;background:#f6f6f6;"></div>
<div class="a" style="left:783.80px;top:682.72px;width:307.50px;height:0.55px;background:#e2e2e2;"></div>
<svg class="a" style="left:785px;top:679px;" width="1" height="1"><text x="0.80" y="0.52" font-size="3.5" fill="#444" font-weight="normal" text-anchor="start" style="">7.</text></svg>
<svg class="a" style="left:792px;top:679px;" width="1" height="1"><text x="0.00" y="0.52" font-size="3.5" fill="#6c97c4" font-weight="normal" text-anchor="start" style="">fr</text></svg>
<svg class="a" style="left:1038px;top:679px;" width="1" height="1"><text x="0.00" y="0.52" font-size="3.5" fill="#333" font-weight="normal" text-anchor="end" style="">15</text></svg>
<div class="a" style="left:1043.00px;top:676.27px;width:0.45px;height:4.00px;background:#b8c4cc;"></div>
<svg class="a" style="left:1046px;top:679px;" width="1" height="1"><text x="0.30" y="0.52" font-size="3.5" fill="#333" font-weight="normal" text-anchor="start" style="">0.40%</text></svg>
<div class="a" style="left:783.80px;top:683.24px;width:307.50px;height:8.90px;background:#fff;"></div>
<div class="a" style="left:783.80px;top:692.14px;width:307.50px;height:0.55px;background:#e2e2e2;"></div>
<svg class="a" style="left:785px;top:688px;" width="1" height="1"><text x="0.80" y="0.94" font-size="3.5" fill="#444" font-weight="normal" text-anchor="start" style="">8.</text></svg>
<svg class="a" style="left:792px;top:688px;" width="1" height="1"><text x="0.00" y="0.94" font-size="3.5" fill="#6c97c4" font-weight="normal" text-anchor="start" style="">id</text></svg>
<svg class="a" style="left:1038px;top:688px;" width="1" height="1"><text x="0.00" y="0.94" font-size="3.5" fill="#333" font-weight="normal" text-anchor="end" style="">15</text></svg>
<div class="a" style="left:1043.00px;top:685.69px;width:0.45px;height:4.00px;background:#b8c4cc;"></div>
<svg class="a" style="left:1046px;top:688px;" width="1" height="1"><text x="0.30" y="0.94" font-size="3.5" fill="#333" font-weight="normal" text-anchor="start" style="">0.40%</text></svg>
<div class="a" style="left:783.80px;top:692.66px;width:307.50px;height:8.90px;background:#f6f6f6;"></div>
<div class="a" style="left:783.80px;top:701.56px;width:307.50px;height:0.55px;background:#e2e2e2;"></div>
<svg class="a" style="left:785px;top:698px;" width="1" height="1"><text x="0.80" y="0.36" font-size="3.5" fill="#444" font-weight="normal" text-anchor="start" style="">9.</text></svg>
<svg class="a" style="left:792px;top:698px;" width="1" height="1"><text x="0.00" y="0.36" font-size="3.5" fill="#6c97c4" font-weight="normal" text-anchor="start" style="">de</text></svg>
<svg class="a" style="left:1038px;top:698px;" width="1" height="1"><text x="0.00" y="0.36" font-size="3.5" fill="#333" font-weight="normal" text-anchor="end" style="">14</text></svg>
<div class="a" style="left:1043.00px;top:695.11px;width:0.45px;height:4.00px;background:#b8c4cc;"></div>
<svg class="a" style="left:1046px;top:698px;" width="1" height="1"><text x="0.30" y="0.36" font-size="3.5" fill="#333" font-weight="normal" text-anchor="start" style="">0.37%</text></svg>
<div class="a" style="left:1094.00px;top:405.30px;width:6.00px;height:298.50px;background:#f5f6f8;"></div>
</div>
<div class="a" style="left:690.00px;top:1.00px;width:1.00px;height:385.00px;background:#efefef;"></div>
<div class="a" style="left:691.00px;top:1.00px;width:1.00px;height:385.00px;background:#c4c4c4;"></div>
<div class="a" style="left:692.00px;top:1.00px;width:1.00px;height:385.00px;background:#939393;"></div>
<div class="a" style="left:175.00px;top:398.00px;width:382.00px;height:1.00px;background:#6c6c6c;"></div>
<div class="a" style="left:175.00px;top:399.00px;width:382.00px;height:1.00px;background:#d4d4d4;"></div>
<div class="a" style="left:175.00px;top:397.00px;width:382.00px;height:1.00px;background:#f2f2f2;"></div>
<div class="a serif" style="will-change:transform;left:741px;top:154.6px;font-size:23px;line-height:27.9px;color:#111">
<div>3,700 Users</div>
<div>15% Conversion</div>
<div>$112 average order value</div>
<div>~$62,000/mo</div>
</div>
<div class="a" style="left:64.00px;top:237.00px;width:26.00px;height:15.00px;background:#222;border-radius:1.5px"></div>
<div class="t" style="left:64px;top:240.3px;width:26px;text-align:center;font-size:8.4px;font-weight:bold;color:#f2f2f2;letter-spacing:0.2px;will-change:transform">0:59</div>
<div class="a" style="left:64.00px;top:257.50px;width:26.00px;height:25.50px;background:#222;border-radius:1.5px"></div>
<div class="a" style="left:72.00px;top:265.00px;width:10.70px;height:10.70px;background:#eb3f36;border-radius:1px"></div>
<div class="a" style="left:1206.3px;top:6.2px;width:4.2px;height:4.2px;border-radius:50%;background:#d7a253"></div>
<svg class="a" style="left:80px;top:526px" width="128" height="128" viewBox="0 0 128 128">
<defs>
<clipPath id="cc"><circle cx="64" cy="64" r="63.9"/></clipPath>
<filter id="bl" x="-5%" y="-5%" width="110%" height="110%"><feGaussianBlur stdDeviation="0.8"/></filter>
<pattern id="plaidL" width="15" height="15" patternUnits="userSpaceOnUse" patternTransform="rotate(18)">
<rect width="15" height="15" fill="#874640"/>
<rect x="0" y="5" width="15" height="1.8" fill="#a98279"/>
<rect x="0" y="11" width="15" height="1" fill="#6a322b"/>
<rect x="6" y="0" width="1.6" height="15" fill="#9c6c63"/>
<rect x="12" y="0" width="1" height="15" fill="#6a322b"/>
</pattern>
<pattern id="plaidR" width="15" height="15" patternUnits="userSpaceOnUse" patternTransform="rotate(-20)">
<rect width="15" height="15" fill="#7c3d35"/>
<rect x="0" y="6" width="15" height="2" fill="#a57a72"/>
<rect x="7" y="0" width="1.8" height="15" fill="#96685f"/>
<rect x="0" y="12" width="15" height="1" fill="#5a2620"/>
</pattern>
<linearGradient id="face" x1="0" y1="0" x2="0" y2="1">
<stop offset="0" stop-color="#ddb0a8"/><stop offset="0.6" stop-color="#d8a29b"/><stop offset="1" stop-color="#d09790"/>
</linearGradient>
<linearGradient id="beard" x1="0" y1="0" x2="0" y2="1">
<stop offset="0" stop-color="#8e4e3c"/><stop offset="1" stop-color="#a46a54"/>
</linearGradient>
</defs>
<g clip-path="url(#cc)">
<g filter="url(#bl)">
<rect width="128" height="128" fill="#e7e5df"/>
<rect x="20" y="0" width="25" height="70" fill="#ecebe7"/>
<rect x="99" y="0" width="29" height="82" fill="#dcd6be"/>
<rect x="104" y="0" width="2.5" height="82" fill="#e7e2cd"/>
<rect x="111" y="0" width="2" height="82" fill="#cfc8ad"/>
<rect x="117" y="0" width="2.5" height="82" fill="#e5e0ca"/>
<rect x="123" y="0" width="2" height="82" fill="#cdc6ab"/>
<rect x="44" y="0" width="6.5" height="68" fill="#cdb48f"/>
<rect x="0" y="22" width="17" height="46" fill="#d9d9d9"/>
<rect x="3" y="42" width="13" height="22" fill="#c9c9cb"/>
<rect x="4" y="34.5" width="12" height="3" fill="#6d5252"/>
<rect x="5" y="37.5" width="10" height="5" fill="#e9e9e9"/>
<rect x="16.2" y="24" width="3.6" height="44" fill="#58585a"/>
<rect x="0" y="55" width="14" height="9" fill="#e4e4e4"/>
<rect x="0" y="65" width="14" height="10" fill="#2b2a33"/>
<path d="M2 73 L8 68 L14 73Z" fill="#e8e8e8"/>
<rect x="37" y="57.5" width="6" height="7" fill="#efe9dc" stroke="#b9b2a4" stroke-width="0.6"/>
<path d="M0 86 L4 82 L18 72.5 L43 67.6 L53 65 L57 88 L55 128 L0 128Z" fill="url(#plaidL)"/>
<path d="M89 71 L96 69 L106 74 L124 80 L128 83 L128 128 L91 128 L90 100Z" fill="url(#plaidR)"/>
<path d="M88 72 L95 69.5 L102 96 L106 112 L97 124 L92 126 L90 100Z" fill="#b8928a"/>
<path d="M53 62 L92 62 L93 94 L56 95Z" fill="#deb3bb"/>
<path d="M53 92 Q73 99 94 91 L96 128 L54 128Z" fill="#1e1b22"/>
<ellipse cx="46.5" cy="42" rx="3.2" ry="7.5" fill="#d29a92"/>
<ellipse cx="101.5" cy="40" rx="2.8" ry="6.5" fill="#d29a92"/>
<path d="M48 30 Q48 9 62 5 Q75 2 88 5 Q101 9 101 30 L100 50 Q98 70 75 74 Q52 70 49 50Z" fill="url(#face)"/>
<path d="M47 36 Q45 6 64 0 Q76 -3 90 1 Q105 7 104 36 Q101 30 99 24 Q97 13 88 10 Q75 7 62 10 Q54 13 52 22 Q50 30 47 36Z" fill="#a4846c"/><path d="M47 36 Q46 20 50 12 L53 14 Q51 24 50 36Z" fill="#8e7260"/><path d="M104 36 Q105 20 100 11 L97 13 Q100 24 100 36Z" fill="#8e7260"/>
<path d="M48 40 Q47 64 56 72 Q66 80 75 81 Q85 80 94 72 Q102 64 101 42 Q99 50 95 52 Q89 47 82 47 Q75 46 68 47 Q60 47 55 51 Q50 49 48 40Z" fill="url(#beard)"/>
<path d="M63 48.5 Q69 45 75 46 Q82 45 89 49 Q88 53 84 53 Q79 50.5 75 51 Q70 50.5 66 53 Q62 52 63 48.5Z" fill="#7a3a2c"/>
<ellipse cx="75" cy="56" rx="5.5" ry="1.9" fill="#b57c74"/><ellipse cx="75" cy="55.9" rx="3.2" ry="0.7" fill="#d9b8b2"/>
<ellipse cx="65.8" cy="31.2" rx="4.5" ry="2.4" fill="#c99a94"/><ellipse cx="65.8" cy="31.4" rx="3.2" ry="1.1" fill="#6a4e50"/>
<ellipse cx="87" cy="32.8" rx="4.5" ry="2.4" fill="#c99a94"/><ellipse cx="87" cy="33" rx="3.2" ry="1.1" fill="#6a4e50"/>
<path d="M61 26 Q66 24.5 71 26 M82 26.5 Q87 25 92 27" stroke="#c09486" stroke-width="1.2" fill="none"/>
<path d="M76 32 L73 43 Q76 45 80 43" stroke="#c78a86" stroke-width="1.4" fill="none"/><ellipse cx="76.5" cy="42.5" rx="4" ry="2" fill="#cf8f8a" opacity="0.7"/>
</g>
</g>
</svg>
</body></html>
